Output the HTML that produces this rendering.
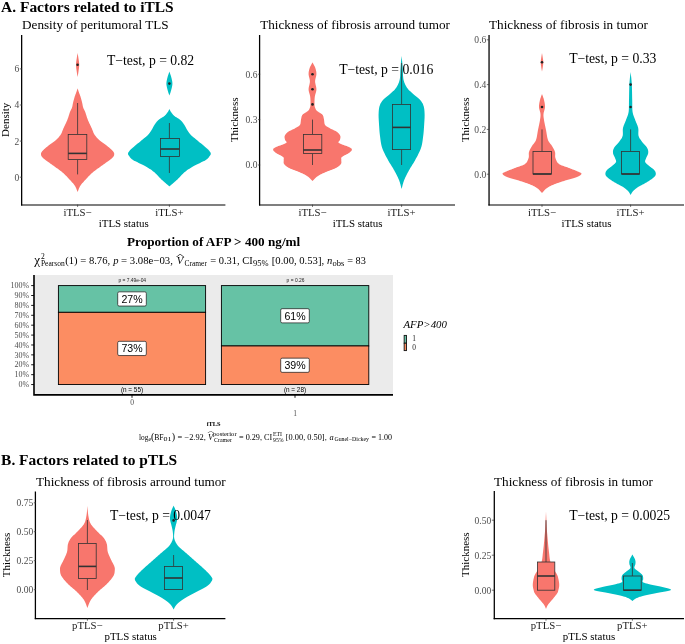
<!DOCTYPE html>
<html><head><meta charset="utf-8"><title>Factors related to TLS</title>
<style>html,body{margin:0;padding:0;background:#fff}svg{display:block;will-change:transform}text{white-space:pre}</style></head>
<body><svg width="685" height="644" viewBox="0 0 685 644">
<rect width="685" height="644" fill="#fff"/>
<text x="1.1" y="11.6" font-family='"Liberation Serif", serif' font-size="15.45" font-weight="bold" fill="#000">A. Factors related to iTLS</text>
<text x="1.1" y="465.2" font-family='"Liberation Serif", serif' font-size="15.45" font-weight="bold" fill="#000">B. Factors related to pTLS</text>
<line x1="21.65" y1="35" x2="21.65" y2="205.55" stroke="#000" stroke-width="1.28"/><line x1="21.009999999999998" y1="205.0" x2="225.4" y2="205.0" stroke="#000" stroke-width="1.12"/><line x1="19.8" y1="177.2" x2="22" y2="177.2" stroke="#333" stroke-width="0.7"/><text x="19.3" y="180.6" font-family='"Liberation Serif", serif' font-size="9.55" text-anchor="end" fill="#4d4d4d">0</text><line x1="19.8" y1="141.1" x2="22" y2="141.1" stroke="#333" stroke-width="0.7"/><text x="19.3" y="144.5" font-family='"Liberation Serif", serif' font-size="9.55" text-anchor="end" fill="#4d4d4d">2</text><line x1="19.8" y1="105" x2="22" y2="105" stroke="#333" stroke-width="0.7"/><text x="19.3" y="108.4" font-family='"Liberation Serif", serif' font-size="9.55" text-anchor="end" fill="#4d4d4d">4</text><line x1="19.8" y1="68.9" x2="22" y2="68.9" stroke="#333" stroke-width="0.7"/><text x="19.3" y="72.30000000000001" font-family='"Liberation Serif", serif' font-size="9.55" text-anchor="end" fill="#4d4d4d">6</text><line x1="77.6" y1="204.6" x2="77.6" y2="206.9" stroke="#333" stroke-width="0.7"/><text x="77.6" y="215.8" font-family='"Liberation Serif", serif' font-size="10.75" text-anchor="middle" fill="#1a1a1a">iTLS−</text><line x1="169.4" y1="204.6" x2="169.4" y2="206.9" stroke="#333" stroke-width="0.7"/><text x="169.4" y="215.8" font-family='"Liberation Serif", serif' font-size="10.75" text-anchor="middle" fill="#1a1a1a">iTLS+</text><text x="123.7" y="227" font-family='"Liberation Serif", serif' font-size="10.9" text-anchor="middle" fill="#000">iTLS status</text><text transform="translate(9.2,119.8) rotate(-90)" text-anchor="middle" font-family='"Liberation Serif", serif' font-size="11" fill="#000">Density</text><text x="22" y="29.2" font-family='"Liberation Serif", serif' font-size="13.2" fill="#000">Density of peritumoral TLS</text>
<path d="M77.60,53.00 L77.56,53.24 L77.51,53.52 L77.46,53.86 L77.39,54.23 L77.32,54.64 L77.25,55.07 L77.17,55.54 L77.10,56.01 L77.02,56.51 L76.94,57.00 L76.87,57.50 L76.80,58.00 L76.73,58.50 L76.65,59.02 L76.56,59.56 L76.47,60.12 L76.39,60.69 L76.30,61.26 L76.22,61.85 L76.15,62.44 L76.09,63.03 L76.04,63.62 L76.01,64.21 L76.00,64.80 L76.01,65.39 L76.04,66.00 L76.09,66.62 L76.15,67.25 L76.22,67.88 L76.30,68.51 L76.39,69.14 L76.47,69.75 L76.56,70.35 L76.65,70.92 L76.73,71.48 L76.80,72.00 L76.87,72.51 L76.94,73.02 L77.02,73.52 L77.10,74.01 L77.17,74.49 L77.25,74.95 L77.32,75.38 L77.39,75.79 L77.46,76.15 L77.51,76.48 L77.56,76.77 L77.60,77.00 L77.60,77.00 L77.64,76.77 L77.69,76.48 L77.74,76.15 L77.81,75.79 L77.88,75.38 L77.95,74.95 L78.03,74.49 L78.10,74.01 L78.18,73.52 L78.26,73.02 L78.33,72.51 L78.40,72.00 L78.47,71.48 L78.55,70.92 L78.64,70.35 L78.73,69.75 L78.81,69.14 L78.90,68.51 L78.98,67.88 L79.05,67.25 L79.11,66.62 L79.16,66.00 L79.19,65.39 L79.20,64.80 L79.19,64.21 L79.16,63.62 L79.11,63.03 L79.05,62.44 L78.98,61.85 L78.90,61.26 L78.81,60.69 L78.73,60.12 L78.64,59.56 L78.55,59.02 L78.47,58.50 L78.40,58.00 L78.33,57.50 L78.26,57.00 L78.18,56.51 L78.10,56.01 L78.03,55.54 L77.95,55.07 L77.88,54.64 L77.81,54.23 L77.74,53.86 L77.69,53.52 L77.64,53.24 L77.60,53.00Z" fill="#F8766D"/>
<path d="M77.60,88.30 L77.54,88.47 L77.48,88.69 L77.40,88.93 L77.31,89.21 L77.22,89.51 L77.11,89.84 L77.00,90.18 L76.89,90.53 L76.77,90.90 L76.65,91.27 L76.52,91.63 L76.40,92.00 L76.27,92.37 L76.13,92.75 L75.99,93.14 L75.84,93.53 L75.68,93.94 L75.52,94.36 L75.37,94.78 L75.21,95.21 L75.05,95.65 L74.90,96.09 L74.74,96.54 L74.60,97.00 L74.46,97.47 L74.31,97.96 L74.17,98.46 L74.03,98.98 L73.89,99.50 L73.75,100.02 L73.61,100.55 L73.48,101.07 L73.35,101.58 L73.23,102.07 L73.11,102.55 L73.00,103.00 L72.90,103.43 L72.81,103.85 L72.73,104.25 L72.66,104.64 L72.59,105.03 L72.52,105.40 L72.46,105.77 L72.39,106.13 L72.31,106.50 L72.22,106.86 L72.12,107.23 L72.00,107.60 L71.87,107.96 L71.73,108.30 L71.59,108.63 L71.43,108.95 L71.27,109.27 L71.11,109.59 L70.93,109.92 L70.76,110.27 L70.57,110.65 L70.39,111.06 L70.19,111.51 L70.00,112.00 L69.80,112.54 L69.60,113.12 L69.40,113.75 L69.19,114.40 L68.98,115.08 L68.76,115.78 L68.53,116.48 L68.30,117.20 L68.06,117.92 L67.82,118.62 L67.56,119.32 L67.30,120.00 L67.02,120.67 L66.73,121.35 L66.42,122.04 L66.11,122.73 L65.78,123.41 L65.46,124.10 L65.13,124.78 L64.80,125.45 L64.49,126.11 L64.18,126.76 L63.88,127.39 L63.60,128.00 L63.34,128.59 L63.10,129.17 L62.88,129.73 L62.67,130.28 L62.47,130.82 L62.27,131.35 L62.06,131.87 L61.85,132.39 L61.62,132.89 L61.37,133.40 L61.10,133.90 L60.80,134.40 L60.48,134.89 L60.15,135.38 L59.82,135.85 L59.47,136.31 L59.10,136.77 L58.72,137.23 L58.33,137.68 L57.91,138.13 L57.47,138.59 L57.01,139.05 L56.52,139.52 L56.00,140.00 L55.44,140.49 L54.82,140.99 L54.17,141.50 L53.48,142.01 L52.77,142.52 L52.05,143.04 L51.33,143.55 L50.61,144.06 L49.91,144.56 L49.23,145.05 L48.59,145.53 L48.00,146.00 L47.44,146.46 L46.88,146.91 L46.33,147.36 L45.80,147.80 L45.28,148.24 L44.79,148.66 L44.31,149.08 L43.87,149.49 L43.45,149.89 L43.06,150.27 L42.71,150.64 L42.40,151.00 L42.13,151.34 L41.88,151.66 L41.67,151.96 L41.50,152.24 L41.35,152.52 L41.22,152.79 L41.13,153.05 L41.06,153.31 L41.01,153.57 L40.99,153.84 L40.98,154.11 L41.00,154.40 L41.03,154.69 L41.07,154.96 L41.12,155.23 L41.19,155.50 L41.29,155.76 L41.41,156.04 L41.57,156.32 L41.76,156.61 L42.00,156.93 L42.28,157.26 L42.61,157.62 L43.00,158.00 L43.45,158.41 L43.95,158.84 L44.51,159.28 L45.11,159.75 L45.76,160.23 L46.44,160.72 L47.15,161.24 L47.89,161.76 L48.65,162.30 L49.42,162.86 L50.21,163.42 L51.00,164.00 L51.82,164.60 L52.69,165.22 L53.61,165.86 L54.56,166.52 L55.52,167.19 L56.50,167.88 L57.48,168.57 L58.44,169.26 L59.39,169.95 L60.31,170.64 L61.18,171.33 L62.00,172.00 L62.78,172.67 L63.54,173.36 L64.28,174.05 L65.00,174.74 L65.70,175.43 L66.38,176.12 L67.03,176.81 L67.67,177.48 L68.28,178.14 L68.88,178.78 L69.45,179.40 L70.00,180.00 L70.53,180.57 L71.03,181.12 L71.52,181.64 L71.98,182.15 L72.42,182.64 L72.84,183.12 L73.24,183.60 L73.62,184.07 L73.99,184.55 L74.34,185.02 L74.68,185.51 L75.00,186.00 L75.31,186.52 L75.60,187.07 L75.88,187.64 L76.14,188.22 L76.39,188.80 L76.61,189.38 L76.82,189.93 L77.01,190.44 L77.19,190.92 L77.34,191.35 L77.48,191.71 L77.60,192.00 L77.60,192.00 L77.72,191.71 L77.86,191.35 L78.01,190.92 L78.19,190.44 L78.38,189.93 L78.59,189.38 L78.81,188.80 L79.06,188.22 L79.32,187.64 L79.60,187.07 L79.89,186.52 L80.20,186.00 L80.52,185.51 L80.86,185.02 L81.21,184.55 L81.58,184.07 L81.96,183.60 L82.36,183.12 L82.78,182.64 L83.22,182.15 L83.68,181.64 L84.17,181.12 L84.67,180.57 L85.20,180.00 L85.75,179.40 L86.32,178.78 L86.92,178.14 L87.53,177.48 L88.17,176.81 L88.82,176.12 L89.50,175.43 L90.20,174.74 L90.92,174.05 L91.66,173.36 L92.42,172.67 L93.20,172.00 L94.02,171.33 L94.89,170.64 L95.81,169.95 L96.76,169.26 L97.72,168.57 L98.70,167.88 L99.68,167.19 L100.64,166.52 L101.59,165.86 L102.51,165.22 L103.38,164.60 L104.20,164.00 L104.99,163.42 L105.78,162.86 L106.55,162.30 L107.31,161.76 L108.05,161.24 L108.76,160.72 L109.44,160.23 L110.09,159.75 L110.69,159.28 L111.25,158.84 L111.75,158.41 L112.20,158.00 L112.59,157.62 L112.92,157.26 L113.20,156.93 L113.44,156.61 L113.63,156.32 L113.79,156.04 L113.91,155.76 L114.01,155.50 L114.08,155.23 L114.13,154.96 L114.17,154.69 L114.20,154.40 L114.22,154.11 L114.21,153.84 L114.19,153.57 L114.14,153.31 L114.07,153.05 L113.97,152.79 L113.85,152.52 L113.70,152.24 L113.53,151.96 L113.32,151.66 L113.07,151.34 L112.80,151.00 L112.49,150.64 L112.14,150.27 L111.75,149.89 L111.33,149.49 L110.89,149.08 L110.41,148.66 L109.92,148.24 L109.40,147.80 L108.87,147.36 L108.32,146.91 L107.76,146.46 L107.20,146.00 L106.61,145.53 L105.97,145.05 L105.29,144.56 L104.59,144.06 L103.87,143.55 L103.15,143.04 L102.43,142.52 L101.72,142.01 L101.03,141.50 L100.38,140.99 L99.76,140.49 L99.20,140.00 L98.68,139.52 L98.19,139.05 L97.73,138.59 L97.29,138.13 L96.87,137.68 L96.47,137.23 L96.10,136.77 L95.73,136.31 L95.38,135.85 L95.05,135.38 L94.72,134.89 L94.40,134.40 L94.10,133.90 L93.83,133.40 L93.58,132.89 L93.35,132.39 L93.14,131.87 L92.93,131.35 L92.73,130.82 L92.53,130.28 L92.32,129.73 L92.10,129.17 L91.86,128.59 L91.60,128.00 L91.32,127.39 L91.02,126.76 L90.71,126.11 L90.40,125.45 L90.07,124.78 L89.74,124.10 L89.42,123.41 L89.09,122.73 L88.78,122.04 L88.47,121.35 L88.18,120.67 L87.90,120.00 L87.64,119.32 L87.38,118.62 L87.14,117.92 L86.90,117.20 L86.67,116.48 L86.44,115.78 L86.22,115.08 L86.01,114.40 L85.80,113.75 L85.60,113.12 L85.40,112.54 L85.20,112.00 L85.01,111.51 L84.81,111.06 L84.63,110.65 L84.44,110.27 L84.27,109.92 L84.09,109.59 L83.93,109.27 L83.77,108.95 L83.61,108.63 L83.47,108.30 L83.33,107.96 L83.20,107.60 L83.08,107.23 L82.98,106.86 L82.89,106.50 L82.81,106.13 L82.74,105.77 L82.67,105.40 L82.61,105.03 L82.54,104.64 L82.47,104.25 L82.39,103.85 L82.30,103.43 L82.20,103.00 L82.09,102.55 L81.97,102.07 L81.85,101.58 L81.72,101.07 L81.59,100.55 L81.45,100.02 L81.31,99.50 L81.17,98.98 L81.03,98.46 L80.89,97.96 L80.74,97.47 L80.60,97.00 L80.46,96.54 L80.30,96.09 L80.15,95.65 L79.99,95.21 L79.83,94.78 L79.67,94.36 L79.52,93.94 L79.36,93.53 L79.21,93.14 L79.07,92.75 L78.93,92.37 L78.80,92.00 L78.68,91.63 L78.55,91.27 L78.43,90.90 L78.31,90.53 L78.20,90.18 L78.09,89.84 L77.98,89.51 L77.89,89.21 L77.80,88.93 L77.72,88.69 L77.66,88.47 L77.60,88.30Z" fill="#F8766D"/>
<line x1="77.6" y1="103" x2="77.6" y2="134.4" stroke="#333333" stroke-width="0.8"/><line x1="77.6" y1="159.6" x2="77.6" y2="174.4" stroke="#333333" stroke-width="0.8"/><rect x="68.2" y="134.4" width="18.599999999999994" height="25.19999999999999" fill="#F8766D" stroke="#333333" stroke-width="0.8"/><line x1="68.2" y1="153.4" x2="86.8" y2="153.4" stroke="#333333" stroke-width="1.6"/>
<circle cx="77.6" cy="64.8" r="1.3" fill="#222"/>
<path d="M169.40,71.60 L169.31,71.86 L169.20,72.17 L169.06,72.54 L168.91,72.96 L168.75,73.41 L168.58,73.89 L168.40,74.39 L168.22,74.91 L168.05,75.44 L167.89,75.97 L167.73,76.49 L167.60,77.00 L167.47,77.51 L167.34,78.03 L167.20,78.57 L167.07,79.12 L166.94,79.68 L166.81,80.24 L166.70,80.80 L166.60,81.37 L166.52,81.94 L166.45,82.50 L166.41,83.05 L166.40,83.60 L166.41,84.14 L166.45,84.69 L166.52,85.23 L166.60,85.78 L166.70,86.32 L166.81,86.86 L166.94,87.40 L167.07,87.93 L167.20,88.46 L167.34,88.98 L167.47,89.50 L167.60,90.00 L167.73,90.51 L167.89,91.04 L168.05,91.59 L168.22,92.13 L168.40,92.67 L168.58,93.20 L168.75,93.70 L168.91,94.18 L169.06,94.61 L169.20,95.00 L169.31,95.33 L169.40,95.60 L169.40,95.60 L169.49,95.33 L169.60,95.00 L169.74,94.61 L169.89,94.18 L170.05,93.70 L170.22,93.20 L170.40,92.67 L170.58,92.13 L170.75,91.59 L170.91,91.04 L171.07,90.51 L171.20,90.00 L171.33,89.50 L171.46,88.98 L171.60,88.46 L171.73,87.93 L171.86,87.40 L171.99,86.86 L172.10,86.32 L172.20,85.78 L172.28,85.23 L172.35,84.69 L172.39,84.14 L172.40,83.60 L172.39,83.05 L172.35,82.50 L172.28,81.94 L172.20,81.37 L172.10,80.80 L171.99,80.24 L171.86,79.68 L171.73,79.12 L171.60,78.57 L171.46,78.03 L171.33,77.51 L171.20,77.00 L171.07,76.49 L170.91,75.97 L170.75,75.44 L170.58,74.91 L170.40,74.39 L170.22,73.89 L170.05,73.41 L169.89,72.96 L169.74,72.54 L169.60,72.17 L169.49,71.86 L169.40,71.60Z" fill="#00BFC4"/>
<path d="M169.40,109.00 L169.33,109.14 L169.25,109.31 L169.15,109.52 L169.05,109.74 L168.94,109.99 L168.81,110.25 L168.68,110.53 L168.53,110.81 L168.36,111.11 L168.19,111.41 L168.00,111.71 L167.80,112.00 L167.59,112.30 L167.37,112.61 L167.14,112.93 L166.90,113.26 L166.64,113.60 L166.38,113.94 L166.09,114.28 L165.79,114.63 L165.47,114.98 L165.14,115.32 L164.78,115.66 L164.40,116.00 L163.98,116.33 L163.53,116.66 L163.04,116.98 L162.52,117.30 L161.98,117.62 L161.44,117.94 L160.89,118.26 L160.35,118.59 L159.82,118.93 L159.31,119.28 L158.84,119.63 L158.40,120.00 L157.99,120.38 L157.60,120.78 L157.23,121.18 L156.87,121.59 L156.53,122.01 L156.20,122.44 L155.88,122.87 L155.57,123.30 L155.27,123.73 L154.97,124.16 L154.68,124.58 L154.40,125.00 L154.13,125.42 L153.87,125.83 L153.64,126.25 L153.41,126.67 L153.19,127.08 L152.98,127.50 L152.77,127.92 L152.56,128.33 L152.34,128.75 L152.10,129.17 L151.86,129.58 L151.60,130.00 L151.33,130.42 L151.06,130.83 L150.79,131.25 L150.51,131.67 L150.23,132.08 L149.94,132.50 L149.64,132.92 L149.33,133.33 L149.00,133.75 L148.65,134.17 L148.29,134.58 L147.90,135.00 L147.50,135.41 L147.09,135.80 L146.67,136.18 L146.23,136.56 L145.78,136.93 L145.32,137.31 L144.83,137.70 L144.32,138.11 L143.79,138.54 L143.22,138.99 L142.63,139.48 L142.00,140.00 L141.31,140.58 L140.54,141.22 L139.71,141.91 L138.83,142.63 L137.93,143.37 L137.02,144.12 L136.12,144.87 L135.25,145.59 L134.42,146.28 L133.66,146.92 L132.98,147.50 L132.40,148.00 L131.91,148.43 L131.50,148.79 L131.15,149.11 L130.85,149.39 L130.60,149.62 L130.39,149.84 L130.20,150.03 L130.04,150.21 L129.88,150.40 L129.73,150.58 L129.57,150.78 L129.40,151.00 L129.22,151.23 L129.05,151.46 L128.88,151.68 L128.72,151.90 L128.58,152.12 L128.44,152.34 L128.33,152.55 L128.22,152.76 L128.14,152.97 L128.07,153.18 L128.02,153.39 L128.00,153.60 L128.00,153.80 L128.01,153.99 L128.03,154.18 L128.08,154.36 L128.14,154.53 L128.22,154.71 L128.32,154.90 L128.43,155.09 L128.57,155.29 L128.73,155.51 L128.90,155.74 L129.10,156.00 L129.30,156.27 L129.49,156.55 L129.69,156.84 L129.89,157.14 L130.12,157.45 L130.37,157.78 L130.66,158.11 L131.00,158.46 L131.39,158.82 L131.85,159.20 L132.38,159.59 L133.00,160.00 L133.73,160.43 L134.57,160.88 L135.50,161.36 L136.51,161.85 L137.58,162.36 L138.68,162.88 L139.80,163.40 L140.92,163.93 L142.02,164.45 L143.08,164.98 L144.08,165.49 L145.00,166.00 L145.86,166.49 L146.69,166.98 L147.48,167.45 L148.26,167.93 L149.01,168.40 L149.75,168.88 L150.47,169.36 L151.19,169.85 L151.89,170.36 L152.59,170.88 L153.29,171.43 L154.00,172.00 L154.70,172.60 L155.40,173.24 L156.08,173.90 L156.76,174.58 L157.43,175.27 L158.10,175.97 L158.76,176.68 L159.41,177.38 L160.07,178.07 L160.71,178.74 L161.36,179.38 L162.00,180.00 L162.66,180.61 L163.35,181.23 L164.07,181.86 L164.79,182.49 L165.50,183.10 L166.20,183.70 L166.87,184.27 L167.50,184.80 L168.08,185.29 L168.60,185.72 L169.04,186.10 L169.40,186.40 L169.40,186.40 L169.76,186.10 L170.20,185.72 L170.72,185.29 L171.30,184.80 L171.93,184.27 L172.60,183.70 L173.30,183.10 L174.01,182.49 L174.73,181.86 L175.45,181.23 L176.14,180.61 L176.80,180.00 L177.44,179.38 L178.09,178.74 L178.73,178.07 L179.39,177.38 L180.04,176.68 L180.70,175.97 L181.37,175.27 L182.04,174.58 L182.72,173.90 L183.40,173.24 L184.10,172.60 L184.80,172.00 L185.51,171.43 L186.21,170.88 L186.91,170.36 L187.61,169.85 L188.33,169.36 L189.05,168.88 L189.79,168.40 L190.54,167.93 L191.32,167.45 L192.11,166.98 L192.94,166.49 L193.80,166.00 L194.72,165.49 L195.72,164.98 L196.78,164.45 L197.88,163.93 L199.00,163.40 L200.12,162.88 L201.22,162.36 L202.29,161.85 L203.30,161.36 L204.23,160.88 L205.07,160.43 L205.80,160.00 L206.42,159.59 L206.95,159.20 L207.41,158.82 L207.80,158.46 L208.14,158.11 L208.43,157.78 L208.68,157.45 L208.91,157.14 L209.11,156.84 L209.31,156.55 L209.50,156.27 L209.70,156.00 L209.90,155.74 L210.07,155.51 L210.23,155.29 L210.37,155.09 L210.48,154.90 L210.58,154.71 L210.66,154.53 L210.72,154.36 L210.77,154.18 L210.79,153.99 L210.80,153.80 L210.80,153.60 L210.78,153.39 L210.73,153.18 L210.66,152.97 L210.58,152.76 L210.47,152.55 L210.36,152.34 L210.22,152.12 L210.08,151.90 L209.92,151.68 L209.75,151.46 L209.58,151.23 L209.40,151.00 L209.23,150.78 L209.07,150.58 L208.92,150.40 L208.76,150.21 L208.60,150.03 L208.41,149.84 L208.20,149.62 L207.95,149.39 L207.65,149.11 L207.30,148.79 L206.89,148.43 L206.40,148.00 L205.82,147.50 L205.14,146.92 L204.38,146.28 L203.55,145.59 L202.68,144.87 L201.78,144.12 L200.87,143.37 L199.97,142.63 L199.09,141.91 L198.26,141.22 L197.49,140.58 L196.80,140.00 L196.17,139.48 L195.58,138.99 L195.01,138.54 L194.48,138.11 L193.97,137.70 L193.48,137.31 L193.02,136.93 L192.57,136.56 L192.13,136.18 L191.71,135.80 L191.30,135.41 L190.90,135.00 L190.51,134.58 L190.15,134.17 L189.80,133.75 L189.47,133.33 L189.16,132.92 L188.86,132.50 L188.57,132.08 L188.29,131.67 L188.01,131.25 L187.74,130.83 L187.47,130.42 L187.20,130.00 L186.94,129.58 L186.70,129.17 L186.46,128.75 L186.24,128.33 L186.03,127.92 L185.82,127.50 L185.61,127.08 L185.39,126.67 L185.16,126.25 L184.93,125.83 L184.67,125.42 L184.40,125.00 L184.12,124.58 L183.83,124.16 L183.53,123.73 L183.23,123.30 L182.92,122.87 L182.60,122.44 L182.27,122.01 L181.93,121.59 L181.57,121.18 L181.20,120.78 L180.81,120.38 L180.40,120.00 L179.96,119.63 L179.49,119.28 L178.98,118.93 L178.45,118.59 L177.91,118.26 L177.36,117.94 L176.82,117.62 L176.28,117.30 L175.76,116.98 L175.27,116.66 L174.82,116.33 L174.40,116.00 L174.02,115.66 L173.66,115.32 L173.33,114.98 L173.01,114.63 L172.71,114.28 L172.43,113.94 L172.16,113.60 L171.90,113.26 L171.66,112.93 L171.43,112.61 L171.21,112.30 L171.00,112.00 L170.80,111.71 L170.61,111.41 L170.44,111.11 L170.27,110.81 L170.12,110.53 L169.99,110.25 L169.86,109.99 L169.75,109.74 L169.65,109.52 L169.55,109.31 L169.47,109.14 L169.40,109.00Z" fill="#00BFC4"/>
<line x1="169.4" y1="123" x2="169.4" y2="138.4" stroke="#333333" stroke-width="0.8"/><line x1="169.4" y1="156.6" x2="169.4" y2="173" stroke="#333333" stroke-width="0.8"/><rect x="160.4" y="138.4" width="19.0" height="18.19999999999999" fill="#00BFC4" stroke="#333333" stroke-width="0.8"/><line x1="160.4" y1="149" x2="179.4" y2="149" stroke="#333333" stroke-width="1.6"/>
<circle cx="169.4" cy="83.6" r="1.3" fill="#222"/>
<text x="107" y="65" font-family='"Liberation Serif", serif' font-size="13.68" fill="#000">T−test, p = 0.82</text>
<line x1="259.6" y1="35" x2="259.6" y2="205.55" stroke="#000" stroke-width="1.28"/><line x1="258.96000000000004" y1="205.0" x2="455" y2="205.0" stroke="#000" stroke-width="1.12"/><line x1="258.0" y1="165" x2="260.2" y2="165" stroke="#333" stroke-width="0.7"/><text x="257.5" y="168.4" font-family='"Liberation Serif", serif' font-size="9.55" text-anchor="end" fill="#4d4d4d">0.0</text><line x1="258.0" y1="119.6" x2="260.2" y2="119.6" stroke="#333" stroke-width="0.7"/><text x="257.5" y="123.0" font-family='"Liberation Serif", serif' font-size="9.55" text-anchor="end" fill="#4d4d4d">0.3</text><line x1="258.0" y1="74.2" x2="260.2" y2="74.2" stroke="#333" stroke-width="0.7"/><text x="257.5" y="77.60000000000001" font-family='"Liberation Serif", serif' font-size="9.55" text-anchor="end" fill="#4d4d4d">0.6</text><line x1="312.5" y1="204.6" x2="312.5" y2="206.9" stroke="#333" stroke-width="0.7"/><text x="312.5" y="215.8" font-family='"Liberation Serif", serif' font-size="10.75" text-anchor="middle" fill="#1a1a1a">iTLS−</text><line x1="401.6" y1="204.6" x2="401.6" y2="206.9" stroke="#333" stroke-width="0.7"/><text x="401.6" y="215.8" font-family='"Liberation Serif", serif' font-size="10.75" text-anchor="middle" fill="#1a1a1a">iTLS+</text><text x="357.6" y="227" font-family='"Liberation Serif", serif' font-size="10.9" text-anchor="middle" fill="#000">iTLS status</text><text transform="translate(238.3,119.8) rotate(-90)" text-anchor="middle" font-family='"Liberation Serif", serif' font-size="11" fill="#000">Thickness</text><text x="260.2" y="29.2" font-family='"Liberation Serif", serif' font-size="13.2" fill="#000">Thickness of fibrosis arround tumor</text>
<path d="M312.50,62.40 L312.43,62.52 L312.35,62.67 L312.25,62.85 L312.14,63.04 L312.03,63.25 L311.90,63.48 L311.77,63.72 L311.63,63.97 L311.50,64.23 L311.36,64.48 L311.23,64.74 L311.10,65.00 L310.97,65.25 L310.84,65.51 L310.70,65.76 L310.56,66.02 L310.41,66.28 L310.27,66.56 L310.13,66.84 L309.99,67.14 L309.86,67.45 L309.73,67.78 L309.61,68.13 L309.50,68.50 L309.39,68.89 L309.28,69.31 L309.17,69.74 L309.07,70.18 L308.96,70.64 L308.87,71.12 L308.78,71.61 L308.71,72.11 L308.65,72.62 L308.61,73.14 L308.60,73.67 L308.60,74.20 L308.64,74.74 L308.72,75.30 L308.83,75.88 L308.97,76.46 L309.12,77.05 L309.27,77.66 L309.43,78.27 L309.58,78.89 L309.71,79.51 L309.81,80.14 L309.88,80.77 L309.90,81.40 L309.87,82.04 L309.80,82.69 L309.69,83.36 L309.55,84.03 L309.40,84.71 L309.23,85.39 L309.07,86.07 L308.91,86.75 L308.78,87.42 L308.68,88.09 L308.62,88.75 L308.60,89.40 L308.64,90.04 L308.71,90.67 L308.83,91.29 L308.97,91.90 L309.13,92.52 L309.30,93.12 L309.48,93.73 L309.66,94.34 L309.82,94.95 L309.98,95.56 L310.10,96.18 L310.20,96.80 L310.27,97.44 L310.34,98.10 L310.39,98.78 L310.43,99.47 L310.47,100.16 L310.49,100.84 L310.51,101.51 L310.52,102.16 L310.53,102.78 L310.52,103.36 L310.51,103.91 L310.50,104.40 L310.48,104.84 L310.46,105.24 L310.42,105.60 L310.39,105.92 L310.34,106.21 L310.29,106.49 L310.23,106.75 L310.16,106.99 L310.08,107.24 L310.00,107.48 L309.90,107.73 L309.80,108.00 L309.69,108.27 L309.59,108.53 L309.49,108.78 L309.38,109.02 L309.27,109.26 L309.14,109.49 L308.99,109.73 L308.83,109.97 L308.64,110.21 L308.43,110.47 L308.18,110.73 L307.90,111.00 L307.57,111.28 L307.17,111.57 L306.73,111.86 L306.24,112.16 L305.74,112.46 L305.23,112.77 L304.71,113.08 L304.21,113.40 L303.74,113.72 L303.30,114.04 L302.92,114.37 L302.60,114.70 L302.34,115.03 L302.13,115.36 L301.95,115.69 L301.81,116.03 L301.69,116.36 L301.59,116.71 L301.51,117.06 L301.44,117.42 L301.36,117.79 L301.29,118.18 L301.20,118.58 L301.10,119.00 L301.00,119.45 L300.93,119.93 L300.87,120.44 L300.82,120.97 L300.77,121.51 L300.72,122.06 L300.65,122.60 L300.57,123.13 L300.46,123.64 L300.32,124.13 L300.13,124.59 L299.90,125.00 L299.62,125.37 L299.31,125.71 L298.96,126.03 L298.59,126.32 L298.19,126.59 L297.76,126.85 L297.32,127.10 L296.86,127.35 L296.38,127.60 L295.89,127.85 L295.40,128.12 L294.90,128.40 L294.37,128.69 L293.81,128.98 L293.20,129.28 L292.57,129.57 L291.93,129.87 L291.29,130.16 L290.65,130.46 L290.03,130.76 L289.43,131.07 L288.87,131.37 L288.36,131.69 L287.90,132.00 L287.49,132.32 L287.11,132.64 L286.75,132.97 L286.42,133.30 L286.11,133.64 L285.84,133.97 L285.59,134.31 L285.36,134.65 L285.16,134.99 L284.98,135.33 L284.83,135.67 L284.70,136.00 L284.61,136.34 L284.55,136.68 L284.53,137.02 L284.54,137.37 L284.58,137.72 L284.64,138.06 L284.71,138.40 L284.79,138.74 L284.87,139.07 L284.96,139.39 L285.03,139.70 L285.10,140.00 L285.20,140.28 L285.36,140.55 L285.57,140.80 L285.80,141.04 L286.03,141.27 L286.25,141.50 L286.43,141.73 L286.56,141.96 L286.61,142.20 L286.56,142.45 L286.40,142.72 L286.10,143.00 L285.63,143.30 L284.99,143.62 L284.21,143.96 L283.32,144.31 L282.36,144.67 L281.35,145.03 L280.33,145.38 L279.32,145.73 L278.37,146.08 L277.49,146.40 L276.72,146.71 L276.10,147.00 L275.59,147.26 L275.13,147.51 L274.72,147.73 L274.36,147.94 L274.05,148.14 L273.79,148.34 L273.57,148.53 L273.40,148.73 L273.26,148.93 L273.17,149.14 L273.12,149.36 L273.10,149.60 L273.13,149.85 L273.21,150.11 L273.33,150.38 L273.51,150.65 L273.72,150.93 L273.98,151.21 L274.26,151.50 L274.58,151.79 L274.93,152.09 L275.30,152.39 L275.69,152.69 L276.10,153.00 L276.56,153.32 L277.11,153.64 L277.72,153.98 L278.37,154.33 L279.06,154.67 L279.75,155.03 L280.43,155.37 L281.09,155.72 L281.71,156.06 L282.26,156.38 L282.73,156.70 L283.10,157.00 L283.37,157.28 L283.57,157.55 L283.70,157.80 L283.78,158.04 L283.81,158.27 L283.81,158.50 L283.79,158.73 L283.75,158.96 L283.71,159.20 L283.69,159.45 L283.68,159.72 L283.70,160.00 L283.73,160.30 L283.73,160.61 L283.71,160.93 L283.68,161.26 L283.65,161.60 L283.62,161.94 L283.62,162.28 L283.63,162.63 L283.68,162.98 L283.77,163.32 L283.91,163.66 L284.10,164.00 L284.34,164.33 L284.61,164.67 L284.91,165.00 L285.24,165.33 L285.60,165.67 L286.00,166.00 L286.43,166.33 L286.89,166.67 L287.39,167.00 L287.92,167.33 L288.49,167.67 L289.10,168.00 L289.76,168.33 L290.50,168.67 L291.30,169.00 L292.14,169.33 L293.01,169.67 L293.91,170.00 L294.82,170.33 L295.73,170.67 L296.62,171.00 L297.49,171.33 L298.32,171.67 L299.10,172.00 L299.84,172.33 L300.58,172.66 L301.30,172.98 L302.01,173.30 L302.71,173.62 L303.39,173.94 L304.05,174.26 L304.70,174.59 L305.33,174.93 L305.94,175.28 L306.53,175.63 L307.10,176.00 L307.66,176.40 L308.21,176.83 L308.76,177.30 L309.29,177.78 L309.81,178.27 L310.30,178.75 L310.76,179.22 L311.20,179.67 L311.59,180.08 L311.94,180.44 L312.25,180.76 L312.50,181.00 L312.50,181.00 L312.75,180.76 L313.06,180.44 L313.41,180.08 L313.80,179.67 L314.24,179.22 L314.70,178.75 L315.19,178.27 L315.71,177.78 L316.24,177.30 L316.79,176.83 L317.34,176.40 L317.90,176.00 L318.47,175.63 L319.06,175.28 L319.67,174.93 L320.30,174.59 L320.95,174.26 L321.61,173.94 L322.29,173.62 L322.99,173.30 L323.70,172.98 L324.42,172.66 L325.16,172.33 L325.90,172.00 L326.68,171.67 L327.51,171.33 L328.38,171.00 L329.27,170.67 L330.18,170.33 L331.09,170.00 L331.99,169.67 L332.86,169.33 L333.70,169.00 L334.50,168.67 L335.24,168.33 L335.90,168.00 L336.51,167.67 L337.08,167.33 L337.61,167.00 L338.11,166.67 L338.57,166.33 L339.00,166.00 L339.40,165.67 L339.76,165.33 L340.09,165.00 L340.39,164.67 L340.66,164.33 L340.90,164.00 L341.09,163.66 L341.23,163.32 L341.32,162.98 L341.37,162.63 L341.38,162.28 L341.38,161.94 L341.35,161.60 L341.32,161.26 L341.29,160.93 L341.27,160.61 L341.27,160.30 L341.30,160.00 L341.32,159.72 L341.31,159.45 L341.29,159.20 L341.25,158.96 L341.21,158.73 L341.19,158.50 L341.19,158.27 L341.22,158.04 L341.30,157.80 L341.43,157.55 L341.63,157.28 L341.90,157.00 L342.27,156.70 L342.74,156.38 L343.29,156.06 L343.91,155.72 L344.57,155.37 L345.25,155.03 L345.94,154.67 L346.63,154.33 L347.28,153.98 L347.89,153.64 L348.44,153.32 L348.90,153.00 L349.31,152.69 L349.70,152.39 L350.07,152.09 L350.42,151.79 L350.74,151.50 L351.02,151.21 L351.28,150.93 L351.49,150.65 L351.67,150.38 L351.79,150.11 L351.87,149.85 L351.90,149.60 L351.88,149.36 L351.83,149.14 L351.74,148.93 L351.60,148.73 L351.43,148.53 L351.21,148.34 L350.95,148.14 L350.64,147.94 L350.28,147.73 L349.87,147.51 L349.41,147.26 L348.90,147.00 L348.28,146.71 L347.51,146.40 L346.63,146.08 L345.68,145.73 L344.67,145.38 L343.65,145.03 L342.64,144.67 L341.68,144.31 L340.79,143.96 L340.01,143.62 L339.37,143.30 L338.90,143.00 L338.60,142.72 L338.44,142.45 L338.39,142.20 L338.44,141.96 L338.57,141.73 L338.75,141.50 L338.97,141.27 L339.20,141.04 L339.43,140.80 L339.64,140.55 L339.80,140.28 L339.90,140.00 L339.97,139.70 L340.04,139.39 L340.13,139.07 L340.21,138.74 L340.29,138.40 L340.36,138.06 L340.42,137.72 L340.46,137.37 L340.47,137.02 L340.45,136.68 L340.39,136.34 L340.30,136.00 L340.17,135.67 L340.02,135.33 L339.84,134.99 L339.64,134.65 L339.41,134.31 L339.16,133.97 L338.89,133.64 L338.58,133.30 L338.25,132.97 L337.89,132.64 L337.51,132.32 L337.10,132.00 L336.64,131.69 L336.13,131.37 L335.57,131.07 L334.97,130.76 L334.35,130.46 L333.71,130.16 L333.07,129.87 L332.43,129.57 L331.80,129.28 L331.19,128.98 L330.63,128.69 L330.10,128.40 L329.60,128.12 L329.11,127.85 L328.62,127.60 L328.14,127.35 L327.68,127.10 L327.24,126.85 L326.81,126.59 L326.41,126.32 L326.04,126.03 L325.69,125.71 L325.38,125.37 L325.10,125.00 L324.87,124.59 L324.68,124.13 L324.54,123.64 L324.43,123.13 L324.35,122.60 L324.28,122.06 L324.23,121.51 L324.18,120.97 L324.13,120.44 L324.07,119.93 L324.00,119.45 L323.90,119.00 L323.80,118.58 L323.71,118.18 L323.64,117.79 L323.56,117.42 L323.49,117.06 L323.41,116.71 L323.31,116.36 L323.19,116.03 L323.05,115.69 L322.87,115.36 L322.66,115.03 L322.40,114.70 L322.08,114.37 L321.70,114.04 L321.26,113.72 L320.79,113.40 L320.29,113.08 L319.77,112.77 L319.26,112.46 L318.76,112.16 L318.27,111.86 L317.83,111.57 L317.43,111.28 L317.10,111.00 L316.82,110.73 L316.57,110.47 L316.36,110.21 L316.17,109.97 L316.01,109.73 L315.86,109.49 L315.73,109.26 L315.62,109.02 L315.51,108.78 L315.41,108.53 L315.31,108.27 L315.20,108.00 L315.10,107.73 L315.00,107.48 L314.92,107.24 L314.84,106.99 L314.77,106.75 L314.71,106.49 L314.66,106.21 L314.61,105.92 L314.58,105.60 L314.54,105.24 L314.52,104.84 L314.50,104.40 L314.49,103.91 L314.48,103.36 L314.47,102.78 L314.48,102.16 L314.49,101.51 L314.51,100.84 L314.53,100.16 L314.57,99.47 L314.61,98.78 L314.66,98.10 L314.73,97.44 L314.80,96.80 L314.90,96.18 L315.02,95.56 L315.18,94.95 L315.34,94.34 L315.52,93.73 L315.70,93.12 L315.87,92.52 L316.03,91.90 L316.17,91.29 L316.29,90.67 L316.36,90.04 L316.40,89.40 L316.38,88.75 L316.32,88.09 L316.22,87.42 L316.09,86.75 L315.93,86.07 L315.77,85.39 L315.60,84.71 L315.45,84.03 L315.31,83.36 L315.20,82.69 L315.13,82.04 L315.10,81.40 L315.12,80.77 L315.19,80.14 L315.29,79.51 L315.42,78.89 L315.57,78.27 L315.73,77.66 L315.88,77.05 L316.03,76.46 L316.17,75.88 L316.28,75.30 L316.36,74.74 L316.40,74.20 L316.40,73.67 L316.39,73.14 L316.35,72.62 L316.29,72.11 L316.22,71.61 L316.13,71.12 L316.04,70.64 L315.93,70.18 L315.83,69.74 L315.72,69.31 L315.61,68.89 L315.50,68.50 L315.39,68.13 L315.27,67.78 L315.14,67.45 L315.01,67.14 L314.87,66.84 L314.73,66.56 L314.59,66.28 L314.44,66.02 L314.30,65.76 L314.16,65.51 L314.03,65.25 L313.90,65.00 L313.77,64.74 L313.64,64.48 L313.50,64.23 L313.37,63.97 L313.23,63.72 L313.10,63.48 L312.97,63.25 L312.86,63.04 L312.75,62.85 L312.65,62.67 L312.57,62.52 L312.50,62.40Z" fill="#F8766D"/>
<line x1="312.5" y1="119.6" x2="312.5" y2="134.4" stroke="#333333" stroke-width="0.8"/><line x1="312.5" y1="153.6" x2="312.5" y2="165" stroke="#333333" stroke-width="0.8"/><rect x="303.4" y="134.4" width="18.400000000000034" height="19.19999999999999" fill="#F8766D" stroke="#333333" stroke-width="0.8"/><line x1="303.4" y1="150" x2="321.8" y2="150" stroke="#333333" stroke-width="1.6"/>
<circle cx="312.5" cy="74.2" r="1.3" fill="#222"/>
<circle cx="312.5" cy="89.2" r="1.3" fill="#222"/>
<circle cx="312.5" cy="104.4" r="1.3" fill="#222"/>
<path d="M401.60,56.00 L401.57,56.34 L401.52,56.76 L401.47,57.26 L401.41,57.81 L401.35,58.42 L401.28,59.06 L401.21,59.73 L401.14,60.41 L401.08,61.09 L401.01,61.75 L400.95,62.39 L400.90,63.00 L400.85,63.57 L400.81,64.13 L400.77,64.68 L400.73,65.22 L400.69,65.76 L400.66,66.31 L400.62,66.87 L400.58,67.44 L400.54,68.04 L400.50,68.66 L400.45,69.31 L400.40,70.00 L400.35,70.73 L400.32,71.52 L400.29,72.34 L400.26,73.19 L400.23,74.06 L400.19,74.94 L400.15,75.82 L400.09,76.70 L400.00,77.57 L399.90,78.41 L399.77,79.23 L399.60,80.00 L399.41,80.74 L399.19,81.47 L398.95,82.19 L398.70,82.89 L398.42,83.58 L398.12,84.25 L397.81,84.91 L397.48,85.56 L397.13,86.19 L396.77,86.81 L396.39,87.41 L396.00,88.00 L395.59,88.57 L395.15,89.12 L394.69,89.64 L394.21,90.15 L393.72,90.64 L393.21,91.12 L392.69,91.60 L392.16,92.07 L391.63,92.55 L391.09,93.02 L390.54,93.51 L390.00,94.00 L389.44,94.50 L388.85,95.00 L388.24,95.50 L387.61,96.00 L386.97,96.50 L386.34,97.00 L385.71,97.50 L385.10,98.00 L384.52,98.50 L383.97,99.00 L383.46,99.50 L383.00,100.00 L382.58,100.49 L382.20,100.98 L381.84,101.45 L381.51,101.93 L381.21,102.40 L380.93,102.88 L380.66,103.36 L380.42,103.85 L380.20,104.36 L379.99,104.88 L379.79,105.43 L379.60,106.00 L379.43,106.59 L379.28,107.19 L379.15,107.81 L379.04,108.44 L378.94,109.09 L378.86,109.75 L378.80,110.42 L378.74,111.11 L378.70,111.81 L378.66,112.53 L378.63,113.26 L378.60,114.00 L378.58,114.76 L378.58,115.53 L378.59,116.31 L378.61,117.11 L378.64,117.92 L378.68,118.75 L378.72,119.59 L378.77,120.44 L378.83,121.31 L378.88,122.19 L378.94,123.09 L379.00,124.00 L379.06,124.93 L379.12,125.88 L379.18,126.86 L379.24,127.85 L379.31,128.86 L379.39,129.88 L379.47,130.90 L379.56,131.93 L379.65,132.95 L379.76,133.98 L379.87,134.99 L380.00,136.00 L380.13,137.00 L380.26,138.00 L380.38,139.00 L380.51,140.00 L380.65,141.00 L380.80,142.00 L380.97,143.00 L381.16,144.00 L381.37,145.00 L381.61,146.00 L381.89,147.00 L382.20,148.00 L382.56,149.01 L382.96,150.02 L383.39,151.05 L383.86,152.07 L384.35,153.10 L384.86,154.12 L385.39,155.14 L385.92,156.15 L386.45,157.14 L386.98,158.12 L387.50,159.07 L388.00,160.00 L388.50,160.90 L389.00,161.78 L389.51,162.64 L390.02,163.48 L390.54,164.31 L391.05,165.12 L391.56,165.93 L392.07,166.74 L392.57,167.55 L393.06,168.36 L393.53,169.17 L394.00,170.00 L394.46,170.84 L394.92,171.68 L395.38,172.52 L395.83,173.37 L396.28,174.22 L396.71,175.06 L397.14,175.90 L397.55,176.74 L397.94,177.57 L398.32,178.39 L398.67,179.20 L399.00,180.00 L399.31,180.81 L399.60,181.66 L399.88,182.53 L400.14,183.41 L400.39,184.28 L400.61,185.12 L400.82,185.94 L401.01,186.70 L401.19,187.41 L401.34,188.03 L401.48,188.57 L401.60,189.00 L401.60,189.00 L401.72,188.57 L401.86,188.03 L402.01,187.41 L402.19,186.70 L402.38,185.94 L402.59,185.12 L402.81,184.28 L403.06,183.41 L403.32,182.53 L403.60,181.66 L403.89,180.81 L404.20,180.00 L404.53,179.20 L404.88,178.39 L405.26,177.57 L405.65,176.74 L406.06,175.90 L406.49,175.06 L406.92,174.22 L407.37,173.37 L407.82,172.52 L408.28,171.68 L408.74,170.84 L409.20,170.00 L409.67,169.17 L410.14,168.36 L410.63,167.55 L411.13,166.74 L411.64,165.93 L412.15,165.12 L412.66,164.31 L413.18,163.48 L413.69,162.64 L414.20,161.78 L414.70,160.90 L415.20,160.00 L415.70,159.07 L416.22,158.12 L416.75,157.14 L417.28,156.15 L417.81,155.14 L418.34,154.12 L418.85,153.10 L419.34,152.07 L419.81,151.05 L420.24,150.02 L420.64,149.01 L421.00,148.00 L421.31,147.00 L421.59,146.00 L421.83,145.00 L422.04,144.00 L422.23,143.00 L422.40,142.00 L422.55,141.00 L422.69,140.00 L422.82,139.00 L422.94,138.00 L423.07,137.00 L423.20,136.00 L423.33,134.99 L423.44,133.98 L423.55,132.95 L423.64,131.93 L423.73,130.90 L423.81,129.88 L423.89,128.86 L423.96,127.85 L424.02,126.86 L424.08,125.88 L424.14,124.93 L424.20,124.00 L424.26,123.09 L424.32,122.19 L424.38,121.31 L424.43,120.44 L424.48,119.59 L424.53,118.75 L424.56,117.92 L424.59,117.11 L424.61,116.31 L424.62,115.53 L424.62,114.76 L424.60,114.00 L424.57,113.26 L424.54,112.53 L424.50,111.81 L424.46,111.11 L424.40,110.42 L424.34,109.75 L424.26,109.09 L424.16,108.44 L424.05,107.81 L423.92,107.19 L423.77,106.59 L423.60,106.00 L423.41,105.43 L423.21,104.88 L423.00,104.36 L422.78,103.85 L422.54,103.36 L422.28,102.88 L421.99,102.40 L421.69,101.93 L421.36,101.45 L421.00,100.98 L420.62,100.49 L420.20,100.00 L419.74,99.50 L419.23,99.00 L418.68,98.50 L418.10,98.00 L417.49,97.50 L416.86,97.00 L416.23,96.50 L415.59,96.00 L414.96,95.50 L414.35,95.00 L413.76,94.50 L413.20,94.00 L412.66,93.51 L412.11,93.02 L411.57,92.55 L411.04,92.07 L410.51,91.60 L409.99,91.12 L409.48,90.64 L408.99,90.15 L408.51,89.64 L408.05,89.12 L407.61,88.57 L407.20,88.00 L406.81,87.41 L406.43,86.81 L406.07,86.19 L405.72,85.56 L405.39,84.91 L405.08,84.25 L404.78,83.58 L404.50,82.89 L404.25,82.19 L404.01,81.47 L403.79,80.74 L403.60,80.00 L403.43,79.23 L403.30,78.41 L403.20,77.57 L403.11,76.70 L403.05,75.82 L403.01,74.94 L402.97,74.06 L402.94,73.19 L402.91,72.34 L402.88,71.52 L402.85,70.73 L402.80,70.00 L402.75,69.31 L402.70,68.66 L402.66,68.04 L402.62,67.44 L402.58,66.87 L402.54,66.31 L402.51,65.76 L402.47,65.22 L402.43,64.68 L402.39,64.13 L402.35,63.57 L402.30,63.00 L402.25,62.39 L402.19,61.75 L402.12,61.09 L402.06,60.41 L401.99,59.73 L401.92,59.06 L401.85,58.42 L401.79,57.81 L401.73,57.26 L401.68,56.76 L401.63,56.34 L401.60,56.00Z" fill="#00BFC4"/>
<line x1="401.6" y1="63" x2="401.6" y2="104.4" stroke="#333333" stroke-width="0.8"/><line x1="401.6" y1="149.6" x2="401.6" y2="165" stroke="#333333" stroke-width="0.8"/><rect x="392.4" y="104.4" width="18.200000000000045" height="45.19999999999999" fill="#00BFC4" stroke="#333333" stroke-width="0.8"/><line x1="392.4" y1="127.4" x2="410.6" y2="127.4" stroke="#333333" stroke-width="1.6"/>
<text x="339.2" y="74" font-family='"Liberation Serif", serif' font-size="13.68" fill="#000">T−test, p = 0.016</text>
<line x1="489.05" y1="35" x2="489.05" y2="205.55" stroke="#000" stroke-width="1.28"/><line x1="488.41" y1="205.0" x2="684" y2="205.0" stroke="#000" stroke-width="1.12"/><line x1="486.8" y1="174.2" x2="489" y2="174.2" stroke="#333" stroke-width="0.7"/><text x="486.3" y="177.6" font-family='"Liberation Serif", serif' font-size="9.55" text-anchor="end" fill="#4d4d4d">0.0</text><line x1="486.8" y1="129.4" x2="489" y2="129.4" stroke="#333" stroke-width="0.7"/><text x="486.3" y="132.8" font-family='"Liberation Serif", serif' font-size="9.55" text-anchor="end" fill="#4d4d4d">0.2</text><line x1="486.8" y1="84.6" x2="489" y2="84.6" stroke="#333" stroke-width="0.7"/><text x="486.3" y="88.0" font-family='"Liberation Serif", serif' font-size="9.55" text-anchor="end" fill="#4d4d4d">0.4</text><line x1="486.8" y1="39.8" x2="489" y2="39.8" stroke="#333" stroke-width="0.7"/><text x="486.3" y="43.199999999999996" font-family='"Liberation Serif", serif' font-size="9.55" text-anchor="end" fill="#4d4d4d">0.6</text><line x1="542" y1="204.6" x2="542" y2="206.9" stroke="#333" stroke-width="0.7"/><text x="542" y="215.8" font-family='"Liberation Serif", serif' font-size="10.75" text-anchor="middle" fill="#1a1a1a">iTLS−</text><line x1="630.6" y1="204.6" x2="630.6" y2="206.9" stroke="#333" stroke-width="0.7"/><text x="630.6" y="215.8" font-family='"Liberation Serif", serif' font-size="10.75" text-anchor="middle" fill="#1a1a1a">iTLS+</text><text x="586.5" y="227" font-family='"Liberation Serif", serif' font-size="10.9" text-anchor="middle" fill="#000">iTLS status</text><text transform="translate(468.5,119.8) rotate(-90)" text-anchor="middle" font-family='"Liberation Serif", serif' font-size="11" fill="#000">Thickness</text><text x="489" y="29.2" font-family='"Liberation Serif", serif' font-size="13.2" fill="#000">Thickness of fibrosis in tumor</text>
<path d="M542.00,53.00 L541.96,53.24 L541.91,53.55 L541.85,53.92 L541.78,54.33 L541.71,54.77 L541.63,55.24 L541.55,55.72 L541.47,56.21 L541.40,56.69 L541.33,57.16 L541.26,57.60 L541.20,58.00 L541.14,58.38 L541.09,58.74 L541.03,59.09 L540.97,59.44 L540.92,59.78 L540.87,60.11 L540.82,60.45 L540.78,60.79 L540.75,61.13 L540.72,61.47 L540.71,61.83 L540.70,62.20 L540.71,62.58 L540.72,62.97 L540.75,63.36 L540.78,63.76 L540.82,64.17 L540.87,64.58 L540.92,64.98 L540.97,65.39 L541.03,65.80 L541.09,66.20 L541.14,66.61 L541.20,67.00 L541.26,67.40 L541.33,67.83 L541.40,68.27 L541.47,68.72 L541.55,69.16 L541.63,69.60 L541.71,70.02 L541.78,70.41 L541.85,70.78 L541.91,71.10 L541.96,71.38 L542.00,71.60 L542.00,71.60 L542.04,71.38 L542.09,71.10 L542.15,70.78 L542.22,70.41 L542.29,70.02 L542.37,69.60 L542.45,69.16 L542.53,68.72 L542.60,68.27 L542.67,67.83 L542.74,67.40 L542.80,67.00 L542.86,66.61 L542.91,66.20 L542.97,65.80 L543.03,65.39 L543.08,64.98 L543.13,64.58 L543.18,64.17 L543.22,63.76 L543.25,63.36 L543.28,62.97 L543.29,62.58 L543.30,62.20 L543.29,61.83 L543.28,61.47 L543.25,61.13 L543.22,60.79 L543.18,60.45 L543.13,60.11 L543.08,59.78 L543.03,59.44 L542.97,59.09 L542.91,58.74 L542.86,58.38 L542.80,58.00 L542.74,57.60 L542.67,57.16 L542.60,56.69 L542.53,56.21 L542.45,55.72 L542.37,55.24 L542.29,54.77 L542.22,54.33 L542.15,53.92 L542.09,53.55 L542.04,53.24 L542.00,53.00Z" fill="#F8766D"/>
<path d="M542.00,94.00 L541.90,94.29 L541.77,94.64 L541.62,95.05 L541.44,95.52 L541.26,96.02 L541.06,96.56 L540.86,97.13 L540.67,97.70 L540.48,98.29 L540.30,98.87 L540.14,99.45 L540.00,100.00 L539.87,100.55 L539.75,101.11 L539.62,101.68 L539.50,102.26 L539.39,102.85 L539.28,103.44 L539.19,104.03 L539.11,104.63 L539.05,105.23 L539.01,105.82 L538.99,106.41 L539.00,107.00 L539.04,107.59 L539.13,108.18 L539.25,108.77 L539.39,109.37 L539.55,109.97 L539.72,110.56 L539.89,111.15 L540.06,111.74 L540.21,112.32 L540.34,112.89 L540.44,113.45 L540.50,114.00 L540.53,114.52 L540.55,115.01 L540.55,115.48 L540.54,115.93 L540.51,116.37 L540.47,116.81 L540.42,117.27 L540.35,117.74 L540.28,118.24 L540.19,118.78 L540.10,119.36 L540.00,120.00 L539.89,120.69 L539.75,121.44 L539.61,122.22 L539.44,123.04 L539.27,123.88 L539.09,124.75 L538.91,125.63 L538.72,126.52 L538.54,127.41 L538.35,128.29 L538.17,129.15 L538.00,130.00 L537.84,130.85 L537.69,131.71 L537.55,132.59 L537.41,133.48 L537.27,134.37 L537.12,135.25 L536.98,136.12 L536.81,136.96 L536.64,137.78 L536.45,138.56 L536.24,139.31 L536.00,140.00 L535.73,140.64 L535.44,141.23 L535.12,141.78 L534.78,142.30 L534.42,142.78 L534.06,143.25 L533.70,143.70 L533.33,144.15 L532.98,144.59 L532.63,145.05 L532.30,145.51 L532.00,146.00 L531.71,146.50 L531.41,147.00 L531.12,147.50 L530.83,148.00 L530.55,148.50 L530.27,149.00 L530.02,149.50 L529.77,150.00 L529.54,150.50 L529.34,151.00 L529.16,151.50 L529.00,152.00 L528.89,152.50 L528.82,153.00 L528.79,153.50 L528.79,154.00 L528.81,154.50 L528.84,155.00 L528.86,155.50 L528.87,156.00 L528.86,156.50 L528.82,157.00 L528.74,157.50 L528.60,158.00 L528.43,158.51 L528.26,159.02 L528.08,159.55 L527.87,160.07 L527.65,160.60 L527.40,161.12 L527.12,161.64 L526.79,162.15 L526.42,162.64 L526.01,163.12 L525.53,163.57 L525.00,164.00 L524.39,164.40 L523.70,164.78 L522.95,165.14 L522.14,165.48 L521.29,165.81 L520.40,166.12 L519.49,166.43 L518.57,166.74 L517.65,167.05 L516.74,167.36 L515.85,167.67 L515.00,168.00 L514.14,168.34 L513.25,168.69 L512.32,169.05 L511.39,169.41 L510.45,169.77 L509.52,170.12 L508.63,170.48 L507.77,170.81 L506.97,171.14 L506.23,171.45 L505.57,171.74 L505.00,172.00 L504.51,172.23 L504.08,172.44 L503.71,172.62 L503.39,172.78 L503.12,172.92 L502.90,173.06 L502.73,173.20 L502.61,173.33 L502.54,173.48 L502.52,173.63 L502.54,173.80 L502.60,174.00 L502.71,174.21 L502.88,174.44 L503.09,174.68 L503.36,174.93 L503.67,175.18 L504.02,175.44 L504.43,175.70 L504.87,175.96 L505.35,176.23 L505.86,176.49 L506.42,176.75 L507.00,177.00 L507.63,177.25 L508.32,177.49 L509.06,177.73 L509.84,177.96 L510.67,178.20 L511.52,178.44 L512.41,178.68 L513.31,178.93 L514.23,179.18 L515.15,179.44 L516.08,179.71 L517.00,180.00 L517.94,180.30 L518.93,180.61 L519.95,180.93 L521.00,181.26 L522.06,181.60 L523.12,181.94 L524.18,182.28 L525.22,182.63 L526.23,182.98 L527.21,183.32 L528.13,183.66 L529.00,184.00 L529.82,184.33 L530.60,184.66 L531.35,184.98 L532.07,185.30 L532.77,185.62 L533.44,185.94 L534.08,186.26 L534.70,186.59 L535.30,186.93 L535.89,187.28 L536.45,187.63 L537.00,188.00 L537.54,188.40 L538.06,188.83 L538.58,189.30 L539.07,189.78 L539.55,190.27 L540.00,190.75 L540.42,191.22 L540.81,191.67 L541.17,192.08 L541.49,192.44 L541.77,192.76 L542.00,193.00 L542.00,193.00 L542.23,192.76 L542.51,192.44 L542.83,192.08 L543.19,191.67 L543.58,191.22 L544.00,190.75 L544.45,190.27 L544.93,189.78 L545.42,189.30 L545.94,188.83 L546.46,188.40 L547.00,188.00 L547.55,187.63 L548.11,187.28 L548.70,186.93 L549.30,186.59 L549.92,186.26 L550.56,185.94 L551.23,185.62 L551.93,185.30 L552.65,184.98 L553.40,184.66 L554.18,184.33 L555.00,184.00 L555.87,183.66 L556.79,183.32 L557.77,182.98 L558.78,182.63 L559.82,182.28 L560.88,181.94 L561.94,181.60 L563.00,181.26 L564.05,180.93 L565.07,180.61 L566.06,180.30 L567.00,180.00 L567.92,179.71 L568.85,179.44 L569.77,179.18 L570.69,178.93 L571.59,178.68 L572.48,178.44 L573.33,178.20 L574.16,177.96 L574.94,177.73 L575.68,177.49 L576.37,177.25 L577.00,177.00 L577.58,176.75 L578.14,176.49 L578.65,176.23 L579.13,175.96 L579.57,175.70 L579.98,175.44 L580.33,175.18 L580.64,174.93 L580.91,174.68 L581.12,174.44 L581.29,174.21 L581.40,174.00 L581.46,173.80 L581.48,173.63 L581.46,173.48 L581.39,173.33 L581.27,173.20 L581.10,173.06 L580.88,172.92 L580.61,172.78 L580.29,172.62 L579.92,172.44 L579.49,172.23 L579.00,172.00 L578.43,171.74 L577.77,171.45 L577.03,171.14 L576.23,170.81 L575.37,170.48 L574.48,170.12 L573.55,169.77 L572.61,169.41 L571.68,169.05 L570.75,168.69 L569.86,168.34 L569.00,168.00 L568.15,167.67 L567.26,167.36 L566.35,167.05 L565.43,166.74 L564.51,166.43 L563.60,166.12 L562.71,165.81 L561.86,165.48 L561.05,165.14 L560.30,164.78 L559.61,164.40 L559.00,164.00 L558.47,163.57 L557.99,163.12 L557.58,162.64 L557.21,162.15 L556.88,161.64 L556.60,161.12 L556.35,160.60 L556.13,160.07 L555.92,159.55 L555.74,159.02 L555.57,158.51 L555.40,158.00 L555.26,157.50 L555.18,157.00 L555.14,156.50 L555.13,156.00 L555.14,155.50 L555.16,155.00 L555.19,154.50 L555.21,154.00 L555.21,153.50 L555.18,153.00 L555.11,152.50 L555.00,152.00 L554.84,151.50 L554.66,151.00 L554.46,150.50 L554.23,150.00 L553.98,149.50 L553.73,149.00 L553.45,148.50 L553.17,148.00 L552.88,147.50 L552.59,147.00 L552.29,146.50 L552.00,146.00 L551.70,145.51 L551.37,145.05 L551.02,144.59 L550.67,144.15 L550.30,143.70 L549.94,143.25 L549.58,142.78 L549.22,142.30 L548.88,141.78 L548.56,141.23 L548.27,140.64 L548.00,140.00 L547.76,139.31 L547.55,138.56 L547.36,137.78 L547.19,136.96 L547.02,136.12 L546.88,135.25 L546.73,134.37 L546.59,133.48 L546.45,132.59 L546.31,131.71 L546.16,130.85 L546.00,130.00 L545.83,129.15 L545.65,128.29 L545.46,127.41 L545.28,126.52 L545.09,125.63 L544.91,124.75 L544.73,123.88 L544.56,123.04 L544.39,122.22 L544.25,121.44 L544.11,120.69 L544.00,120.00 L543.90,119.36 L543.81,118.78 L543.72,118.24 L543.65,117.74 L543.58,117.27 L543.53,116.81 L543.49,116.37 L543.46,115.93 L543.45,115.48 L543.45,115.01 L543.47,114.52 L543.50,114.00 L543.56,113.45 L543.66,112.89 L543.79,112.32 L543.94,111.74 L544.11,111.15 L544.28,110.56 L544.45,109.97 L544.61,109.37 L544.75,108.77 L544.87,108.18 L544.96,107.59 L545.00,107.00 L545.01,106.41 L544.99,105.82 L544.95,105.23 L544.89,104.63 L544.81,104.03 L544.72,103.44 L544.61,102.85 L544.50,102.26 L544.38,101.68 L544.25,101.11 L544.13,100.55 L544.00,100.00 L543.86,99.45 L543.70,98.87 L543.52,98.29 L543.33,97.70 L543.14,97.13 L542.94,96.56 L542.74,96.02 L542.56,95.52 L542.38,95.05 L542.23,94.64 L542.10,94.29 L542.00,94.00Z" fill="#F8766D"/>
<line x1="542" y1="129.4" x2="542" y2="151.4" stroke="#333333" stroke-width="0.8"/><rect x="533" y="151.4" width="18.399999999999977" height="22.599999999999994" fill="#F8766D" stroke="#333333" stroke-width="0.8"/><line x1="533" y1="174" x2="551.4" y2="174" stroke="#333333" stroke-width="1.6"/>
<circle cx="542" cy="62.2" r="1.3" fill="#222"/>
<circle cx="542" cy="107" r="1.3" fill="#222"/>
<path d="M630.60,72.00 L630.54,72.57 L630.46,73.26 L630.37,74.06 L630.26,74.96 L630.14,75.95 L630.02,77.00 L629.90,78.11 L629.79,79.26 L629.67,80.44 L629.57,81.63 L629.48,82.82 L629.40,84.00 L629.34,85.21 L629.29,86.48 L629.24,87.81 L629.21,89.19 L629.18,90.59 L629.15,92.00 L629.13,93.41 L629.10,94.81 L629.08,96.19 L629.06,97.52 L629.03,98.79 L629.00,100.00 L628.97,101.15 L628.96,102.28 L628.95,103.38 L628.95,104.44 L628.94,105.49 L628.94,106.50 L628.92,107.49 L628.90,108.44 L628.85,109.38 L628.79,110.28 L628.71,111.15 L628.60,112.00 L628.46,112.81 L628.30,113.56 L628.11,114.28 L627.91,114.96 L627.69,115.62 L627.46,116.25 L627.22,116.87 L626.98,117.48 L626.73,118.09 L626.48,118.71 L626.24,119.35 L626.00,120.00 L625.76,120.67 L625.49,121.33 L625.22,122.00 L624.93,122.67 L624.65,123.33 L624.36,124.00 L624.09,124.67 L623.82,125.33 L623.58,126.00 L623.35,126.67 L623.16,127.33 L623.00,128.00 L622.89,128.67 L622.82,129.36 L622.79,130.05 L622.79,130.74 L622.81,131.43 L622.84,132.12 L622.86,132.81 L622.87,133.48 L622.86,134.14 L622.82,134.78 L622.74,135.40 L622.60,136.00 L622.42,136.57 L622.20,137.12 L621.96,137.64 L621.69,138.15 L621.40,138.64 L621.09,139.12 L620.76,139.60 L620.42,140.07 L620.07,140.55 L619.72,141.02 L619.36,141.51 L619.00,142.00 L618.62,142.50 L618.20,143.01 L617.75,143.52 L617.29,144.04 L616.81,144.55 L616.34,145.06 L615.87,145.57 L615.42,146.07 L615.00,146.57 L614.62,147.06 L614.28,147.54 L614.00,148.00 L613.77,148.45 L613.57,148.89 L613.40,149.32 L613.26,149.74 L613.15,150.15 L613.06,150.56 L613.00,150.97 L612.96,151.37 L612.95,151.77 L612.95,152.18 L612.97,152.59 L613.00,153.00 L613.06,153.42 L613.17,153.84 L613.31,154.27 L613.48,154.70 L613.67,155.13 L613.88,155.56 L614.09,155.99 L614.30,156.41 L614.50,156.82 L614.69,157.22 L614.86,157.62 L615.00,158.00 L615.13,158.37 L615.28,158.72 L615.44,159.07 L615.59,159.41 L615.74,159.74 L615.88,160.06 L615.99,160.38 L616.07,160.70 L616.12,161.02 L616.13,161.34 L616.09,161.67 L616.00,162.00 L615.84,162.33 L615.63,162.67 L615.38,163.00 L615.07,163.33 L614.74,163.67 L614.38,164.00 L613.99,164.33 L613.59,164.67 L613.19,165.00 L612.78,165.33 L612.38,165.67 L612.00,166.00 L611.61,166.33 L611.19,166.67 L610.74,167.01 L610.28,167.35 L609.82,167.69 L609.35,168.03 L608.89,168.36 L608.45,168.70 L608.03,169.03 L607.65,169.36 L607.30,169.68 L607.00,170.00 L606.74,170.31 L606.50,170.63 L606.29,170.93 L606.10,171.24 L605.93,171.54 L605.79,171.84 L605.67,172.13 L605.57,172.43 L605.50,172.72 L605.44,173.02 L605.41,173.31 L605.40,173.60 L605.40,173.89 L605.42,174.16 L605.45,174.43 L605.50,174.69 L605.57,174.95 L605.66,175.21 L605.79,175.48 L605.95,175.76 L606.15,176.04 L606.38,176.34 L606.67,176.66 L607.00,177.00 L607.39,177.36 L607.83,177.74 L608.32,178.14 L608.86,178.55 L609.43,178.97 L610.04,179.40 L610.67,179.84 L611.32,180.27 L611.98,180.71 L612.66,181.15 L613.33,181.58 L614.00,182.00 L614.69,182.42 L615.43,182.84 L616.20,183.27 L617.00,183.70 L617.81,184.13 L618.62,184.56 L619.43,184.99 L620.22,185.41 L620.98,185.82 L621.71,186.22 L622.38,186.62 L623.00,187.00 L623.56,187.37 L624.09,187.72 L624.59,188.07 L625.05,188.41 L625.49,188.74 L625.90,189.06 L626.29,189.38 L626.66,189.70 L627.01,190.02 L627.35,190.34 L627.68,190.67 L628.00,191.00 L628.31,191.35 L628.60,191.71 L628.88,192.09 L629.14,192.48 L629.39,192.87 L629.61,193.25 L629.82,193.62 L630.01,193.96 L630.19,194.28 L630.34,194.56 L630.48,194.81 L630.60,195.00 L630.60,195.00 L630.72,194.81 L630.86,194.56 L631.01,194.28 L631.19,193.96 L631.38,193.62 L631.59,193.25 L631.81,192.87 L632.06,192.48 L632.32,192.09 L632.60,191.71 L632.89,191.35 L633.20,191.00 L633.52,190.67 L633.85,190.34 L634.19,190.02 L634.54,189.70 L634.91,189.38 L635.30,189.06 L635.71,188.74 L636.15,188.41 L636.61,188.07 L637.11,187.72 L637.64,187.37 L638.20,187.00 L638.82,186.62 L639.49,186.22 L640.22,185.82 L640.98,185.41 L641.77,184.99 L642.58,184.56 L643.39,184.13 L644.20,183.70 L645.00,183.27 L645.77,182.84 L646.51,182.42 L647.20,182.00 L647.87,181.58 L648.54,181.15 L649.22,180.71 L649.88,180.27 L650.53,179.84 L651.16,179.40 L651.77,178.97 L652.34,178.55 L652.88,178.14 L653.37,177.74 L653.81,177.36 L654.20,177.00 L654.53,176.66 L654.82,176.34 L655.05,176.04 L655.25,175.76 L655.41,175.48 L655.54,175.21 L655.63,174.95 L655.70,174.69 L655.75,174.43 L655.78,174.16 L655.80,173.89 L655.80,173.60 L655.79,173.31 L655.76,173.02 L655.70,172.72 L655.63,172.43 L655.53,172.13 L655.41,171.84 L655.27,171.54 L655.10,171.24 L654.91,170.93 L654.70,170.63 L654.46,170.31 L654.20,170.00 L653.90,169.68 L653.55,169.36 L653.17,169.03 L652.75,168.70 L652.31,168.36 L651.85,168.03 L651.38,167.69 L650.92,167.35 L650.46,167.01 L650.01,166.67 L649.59,166.33 L649.20,166.00 L648.82,165.67 L648.42,165.33 L648.01,165.00 L647.61,164.67 L647.21,164.33 L646.83,164.00 L646.46,163.67 L646.13,163.33 L645.83,163.00 L645.57,162.67 L645.36,162.33 L645.20,162.00 L645.11,161.67 L645.07,161.34 L645.08,161.02 L645.13,160.70 L645.21,160.38 L645.33,160.06 L645.46,159.74 L645.61,159.41 L645.76,159.07 L645.92,158.72 L646.07,158.37 L646.20,158.00 L646.34,157.62 L646.51,157.22 L646.70,156.82 L646.90,156.41 L647.11,155.99 L647.33,155.56 L647.53,155.13 L647.72,154.70 L647.89,154.27 L648.03,153.84 L648.14,153.42 L648.20,153.00 L648.23,152.59 L648.25,152.18 L648.25,151.77 L648.24,151.37 L648.20,150.97 L648.14,150.56 L648.05,150.15 L647.94,149.74 L647.80,149.32 L647.63,148.89 L647.43,148.45 L647.20,148.00 L646.92,147.54 L646.58,147.06 L646.20,146.57 L645.78,146.07 L645.33,145.57 L644.86,145.06 L644.39,144.55 L643.91,144.04 L643.45,143.52 L643.00,143.01 L642.58,142.50 L642.20,142.00 L641.84,141.51 L641.48,141.02 L641.13,140.55 L640.78,140.07 L640.44,139.60 L640.11,139.12 L639.80,138.64 L639.51,138.15 L639.24,137.64 L639.00,137.12 L638.78,136.57 L638.60,136.00 L638.46,135.40 L638.38,134.78 L638.34,134.14 L638.33,133.48 L638.34,132.81 L638.36,132.12 L638.39,131.43 L638.41,130.74 L638.41,130.05 L638.38,129.36 L638.31,128.67 L638.20,128.00 L638.04,127.33 L637.85,126.67 L637.62,126.00 L637.38,125.33 L637.11,124.67 L636.84,124.00 L636.55,123.33 L636.27,122.67 L635.98,122.00 L635.71,121.33 L635.44,120.67 L635.20,120.00 L634.96,119.35 L634.72,118.71 L634.47,118.09 L634.22,117.48 L633.98,116.87 L633.74,116.25 L633.51,115.62 L633.29,114.96 L633.09,114.28 L632.90,113.56 L632.74,112.81 L632.60,112.00 L632.49,111.15 L632.41,110.28 L632.35,109.38 L632.30,108.44 L632.28,107.49 L632.26,106.50 L632.26,105.49 L632.25,104.44 L632.25,103.38 L632.24,102.28 L632.23,101.15 L632.20,100.00 L632.17,98.79 L632.14,97.52 L632.12,96.19 L632.10,94.81 L632.07,93.41 L632.05,92.00 L632.02,90.59 L631.99,89.19 L631.96,87.81 L631.91,86.48 L631.86,85.21 L631.80,84.00 L631.72,82.82 L631.63,81.63 L631.53,80.44 L631.41,79.26 L631.30,78.11 L631.18,77.00 L631.06,75.95 L630.94,74.96 L630.83,74.06 L630.74,73.26 L630.66,72.57 L630.60,72.00Z" fill="#00BFC4"/>
<line x1="630.6" y1="129.4" x2="630.6" y2="151.4" stroke="#333333" stroke-width="0.8"/><rect x="621.6" y="151.4" width="18.0" height="22.599999999999994" fill="#00BFC4" stroke="#333333" stroke-width="0.8"/><line x1="621.6" y1="174" x2="639.6" y2="174" stroke="#333333" stroke-width="1.6"/>
<circle cx="630.6" cy="84.6" r="1.3" fill="#222"/>
<circle cx="630.6" cy="107" r="1.3" fill="#222"/>
<text x="569.2" y="62.6" font-family='"Liberation Serif", serif' font-size="13.68" fill="#000">T−test, p = 0.33</text>
<line x1="35.4" y1="491.5" x2="35.4" y2="619.15" stroke="#000" stroke-width="1.28"/><line x1="34.76" y1="618.6" x2="225.4" y2="618.6" stroke="#000" stroke-width="1.12"/><line x1="33.8" y1="589.7" x2="36" y2="589.7" stroke="#333" stroke-width="0.7"/><text x="33.3" y="593.1" font-family='"Liberation Serif", serif' font-size="9.55" text-anchor="end" fill="#4d4d4d">0.00</text><line x1="33.8" y1="560.7" x2="36" y2="560.7" stroke="#333" stroke-width="0.7"/><text x="33.3" y="564.1" font-family='"Liberation Serif", serif' font-size="9.55" text-anchor="end" fill="#4d4d4d">0.25</text><line x1="33.8" y1="531.7" x2="36" y2="531.7" stroke="#333" stroke-width="0.7"/><text x="33.3" y="535.1" font-family='"Liberation Serif", serif' font-size="9.55" text-anchor="end" fill="#4d4d4d">0.50</text><line x1="33.8" y1="502.8" x2="36" y2="502.8" stroke="#333" stroke-width="0.7"/><text x="33.3" y="506.2" font-family='"Liberation Serif", serif' font-size="9.55" text-anchor="end" fill="#4d4d4d">0.75</text><line x1="87.4" y1="618.4" x2="87.4" y2="620.6999999999999" stroke="#333" stroke-width="0.7"/><text x="87.4" y="628.7" font-family='"Liberation Serif", serif' font-size="10.75" text-anchor="middle" fill="#1a1a1a">pTLS−</text><line x1="173.6" y1="618.4" x2="173.6" y2="620.6999999999999" stroke="#333" stroke-width="0.7"/><text x="173.6" y="628.7" font-family='"Liberation Serif", serif' font-size="10.75" text-anchor="middle" fill="#1a1a1a">pTLS+</text><text x="130.7" y="640.4" font-family='"Liberation Serif", serif' font-size="10.9" text-anchor="middle" fill="#000">pTLS status</text><text transform="translate(9.5,554.95) rotate(-90)" text-anchor="middle" font-family='"Liberation Serif", serif' font-size="11" fill="#000">Thickness</text><text x="36" y="485.7" font-family='"Liberation Serif", serif' font-size="13.2" fill="#000">Thickness of fibrosis arround tumor</text>
<path d="M87.40,506.00 L87.36,506.49 L87.31,507.11 L87.25,507.84 L87.19,508.67 L87.13,509.56 L87.05,510.50 L86.97,511.47 L86.87,512.44 L86.77,513.41 L86.66,514.33 L86.54,515.20 L86.40,516.00 L86.26,516.74 L86.13,517.45 L86.01,518.14 L85.87,518.81 L85.73,519.48 L85.58,520.12 L85.40,520.77 L85.19,521.41 L84.96,522.05 L84.68,522.69 L84.37,523.34 L84.00,524.00 L83.57,524.67 L83.09,525.36 L82.55,526.05 L81.97,526.74 L81.36,527.43 L80.73,528.12 L80.08,528.81 L79.43,529.48 L78.79,530.14 L78.16,530.78 L77.56,531.40 L77.00,532.00 L76.46,532.57 L75.91,533.12 L75.36,533.64 L74.81,534.15 L74.28,534.64 L73.75,535.12 L73.24,535.60 L72.74,536.07 L72.27,536.55 L71.81,537.02 L71.39,537.51 L71.00,538.00 L70.64,538.49 L70.30,538.98 L69.99,539.45 L69.70,539.93 L69.44,540.40 L69.19,540.88 L68.96,541.36 L68.74,541.85 L68.54,542.36 L68.35,542.88 L68.17,543.43 L68.00,544.00 L67.85,544.60 L67.75,545.22 L67.67,545.86 L67.61,546.52 L67.56,547.19 L67.53,547.88 L67.49,548.57 L67.44,549.26 L67.37,549.95 L67.28,550.64 L67.16,551.33 L67.00,552.00 L66.80,552.67 L66.57,553.36 L66.31,554.05 L66.03,554.74 L65.73,555.43 L65.43,556.12 L65.11,556.81 L64.79,557.48 L64.48,558.14 L64.17,558.78 L63.88,559.40 L63.60,560.00 L63.33,560.58 L63.05,561.14 L62.77,561.69 L62.48,562.22 L62.20,562.74 L61.93,563.25 L61.66,563.74 L61.41,564.22 L61.17,564.69 L60.96,565.14 L60.76,565.58 L60.60,566.00 L60.46,566.40 L60.34,566.76 L60.23,567.09 L60.15,567.41 L60.08,567.71 L60.03,568.00 L59.99,568.29 L59.96,568.59 L59.95,568.91 L59.96,569.24 L59.97,569.60 L60.00,570.00 L60.03,570.42 L60.06,570.86 L60.09,571.31 L60.13,571.78 L60.18,572.26 L60.25,572.75 L60.35,573.26 L60.47,573.78 L60.64,574.31 L60.84,574.86 L61.09,575.42 L61.40,576.00 L61.76,576.60 L62.17,577.22 L62.63,577.86 L63.13,578.52 L63.66,579.19 L64.23,579.88 L64.82,580.57 L65.43,581.26 L66.06,581.95 L66.70,582.64 L67.35,583.33 L68.00,584.00 L68.67,584.67 L69.38,585.33 L70.13,586.00 L70.90,586.67 L71.68,587.33 L72.48,588.00 L73.27,588.67 L74.06,589.33 L74.83,590.00 L75.59,590.67 L76.31,591.33 L77.00,592.00 L77.66,592.67 L78.32,593.33 L78.98,594.00 L79.61,594.67 L80.24,595.33 L80.85,596.00 L81.44,596.67 L82.01,597.33 L82.55,598.00 L83.06,598.67 L83.55,599.33 L84.00,600.00 L84.42,600.69 L84.81,601.43 L85.18,602.19 L85.53,602.96 L85.84,603.74 L86.14,604.50 L86.41,605.23 L86.65,605.93 L86.87,606.56 L87.07,607.13 L87.25,607.61 L87.40,608.00 L87.40,608.00 L87.55,607.61 L87.73,607.13 L87.93,606.56 L88.15,605.93 L88.39,605.23 L88.66,604.50 L88.96,603.74 L89.27,602.96 L89.62,602.19 L89.99,601.43 L90.38,600.69 L90.80,600.00 L91.25,599.33 L91.74,598.67 L92.25,598.00 L92.79,597.33 L93.36,596.67 L93.95,596.00 L94.56,595.33 L95.19,594.67 L95.83,594.00 L96.48,593.33 L97.14,592.67 L97.80,592.00 L98.49,591.33 L99.21,590.67 L99.97,590.00 L100.74,589.33 L101.53,588.67 L102.33,588.00 L103.12,587.33 L103.90,586.67 L104.67,586.00 L105.42,585.33 L106.13,584.67 L106.80,584.00 L107.45,583.33 L108.10,582.64 L108.74,581.95 L109.37,581.26 L109.98,580.57 L110.58,579.88 L111.14,579.19 L111.67,578.52 L112.17,577.86 L112.63,577.22 L113.04,576.60 L113.40,576.00 L113.71,575.42 L113.96,574.86 L114.16,574.31 L114.33,573.78 L114.45,573.26 L114.55,572.75 L114.62,572.26 L114.67,571.78 L114.71,571.31 L114.74,570.86 L114.77,570.42 L114.80,570.00 L114.83,569.60 L114.84,569.24 L114.85,568.91 L114.84,568.59 L114.81,568.29 L114.78,568.00 L114.72,567.71 L114.65,567.41 L114.57,567.09 L114.46,566.76 L114.34,566.40 L114.20,566.00 L114.04,565.58 L113.84,565.14 L113.63,564.69 L113.39,564.22 L113.14,563.74 L112.88,563.25 L112.60,562.74 L112.32,562.22 L112.03,561.69 L111.75,561.14 L111.47,560.58 L111.20,560.00 L110.92,559.40 L110.63,558.78 L110.32,558.14 L110.01,557.48 L109.69,556.81 L109.38,556.12 L109.07,555.43 L108.77,554.74 L108.49,554.05 L108.23,553.36 L108.00,552.67 L107.80,552.00 L107.64,551.33 L107.52,550.64 L107.43,549.95 L107.36,549.26 L107.31,548.57 L107.28,547.88 L107.24,547.19 L107.19,546.52 L107.13,545.86 L107.05,545.22 L106.95,544.60 L106.80,544.00 L106.63,543.43 L106.45,542.88 L106.26,542.36 L106.06,541.85 L105.84,541.36 L105.61,540.88 L105.36,540.40 L105.10,539.93 L104.81,539.45 L104.50,538.98 L104.16,538.49 L103.80,538.00 L103.41,537.51 L102.99,537.02 L102.53,536.55 L102.06,536.07 L101.56,535.60 L101.05,535.12 L100.52,534.64 L99.99,534.15 L99.44,533.64 L98.89,533.12 L98.34,532.57 L97.80,532.00 L97.24,531.40 L96.64,530.78 L96.01,530.14 L95.37,529.48 L94.72,528.81 L94.08,528.12 L93.44,527.43 L92.83,526.74 L92.25,526.05 L91.71,525.36 L91.23,524.67 L90.80,524.00 L90.43,523.34 L90.12,522.69 L89.84,522.05 L89.61,521.41 L89.40,520.77 L89.23,520.12 L89.07,519.48 L88.93,518.81 L88.79,518.14 L88.67,517.45 L88.54,516.74 L88.40,516.00 L88.26,515.20 L88.14,514.33 L88.03,513.41 L87.93,512.44 L87.83,511.47 L87.75,510.50 L87.67,509.56 L87.61,508.67 L87.55,507.84 L87.49,507.11 L87.44,506.49 L87.40,506.00Z" fill="#F8766D"/>
<line x1="87.4" y1="520" x2="87.4" y2="543.4" stroke="#333333" stroke-width="0.8"/><line x1="87.4" y1="578.4" x2="87.4" y2="590" stroke="#333333" stroke-width="0.8"/><rect x="78.4" y="543.4" width="17.799999999999997" height="35.0" fill="#F8766D" stroke="#333333" stroke-width="0.8"/><line x1="78.4" y1="566.4" x2="96.2" y2="566.4" stroke="#333333" stroke-width="1.6"/>
<path d="M173.60,505.60 L173.47,505.91 L173.30,506.29 L173.10,506.74 L172.87,507.24 L172.62,507.78 L172.36,508.36 L172.10,508.97 L171.84,509.59 L171.60,510.21 L171.37,510.82 L171.17,511.43 L171.00,512.00 L170.85,512.56 L170.71,513.13 L170.58,513.71 L170.45,514.29 L170.34,514.87 L170.24,515.46 L170.15,516.05 L170.08,516.64 L170.03,517.24 L170.00,517.83 L169.99,518.41 L170.00,519.00 L170.04,519.59 L170.12,520.18 L170.23,520.77 L170.36,521.37 L170.50,521.97 L170.66,522.56 L170.83,523.15 L171.00,523.74 L171.17,524.32 L171.33,524.89 L171.47,525.45 L171.60,526.00 L171.72,526.53 L171.84,527.05 L171.96,527.55 L172.07,528.04 L172.19,528.52 L172.30,529.00 L172.41,529.48 L172.50,529.96 L172.59,530.45 L172.67,530.95 L172.74,531.47 L172.80,532.00 L172.85,532.55 L172.91,533.11 L172.97,533.68 L173.03,534.26 L173.08,534.85 L173.11,535.44 L173.13,536.03 L173.13,536.63 L173.10,537.23 L173.03,537.82 L172.94,538.41 L172.80,539.00 L172.63,539.58 L172.45,540.16 L172.24,540.73 L172.01,541.30 L171.75,541.87 L171.46,542.44 L171.14,543.01 L170.79,543.59 L170.40,544.18 L169.98,544.78 L169.51,545.38 L169.00,546.00 L168.43,546.63 L167.80,547.28 L167.12,547.93 L166.39,548.59 L165.62,549.26 L164.82,549.94 L164.01,550.62 L163.19,551.30 L162.37,551.98 L161.56,552.66 L160.77,553.33 L160.00,554.00 L159.25,554.67 L158.50,555.33 L157.75,556.00 L157.00,556.67 L156.25,557.33 L155.50,558.00 L154.75,558.67 L154.00,559.33 L153.25,560.00 L152.50,560.67 L151.75,561.33 L151.00,562.00 L150.24,562.67 L149.46,563.36 L148.67,564.05 L147.87,564.74 L147.08,565.43 L146.29,566.12 L145.51,566.81 L144.75,567.48 L144.01,568.14 L143.30,568.78 L142.63,569.40 L142.00,570.00 L141.40,570.58 L140.82,571.14 L140.26,571.69 L139.73,572.22 L139.21,572.74 L138.72,573.25 L138.26,573.74 L137.83,574.22 L137.42,574.69 L137.05,575.14 L136.71,575.58 L136.40,576.00 L136.12,576.40 L135.85,576.76 L135.60,577.09 L135.39,577.41 L135.19,577.71 L135.04,578.00 L134.92,578.29 L134.84,578.59 L134.80,578.91 L134.81,579.24 L134.88,579.60 L135.00,580.00 L135.17,580.43 L135.39,580.88 L135.66,581.36 L135.97,581.85 L136.33,582.36 L136.72,582.88 L137.17,583.40 L137.65,583.93 L138.18,584.45 L138.75,584.98 L139.35,585.49 L140.00,586.00 L140.71,586.50 L141.49,587.00 L142.33,587.50 L143.22,588.00 L144.16,588.50 L145.12,589.00 L146.11,589.50 L147.11,590.00 L148.11,590.50 L149.10,591.00 L150.06,591.50 L151.00,592.00 L151.93,592.50 L152.87,593.00 L153.82,593.50 L154.78,594.00 L155.74,594.50 L156.69,595.00 L157.63,595.50 L158.56,596.00 L159.46,596.50 L160.34,597.00 L161.19,597.50 L162.00,598.00 L162.79,598.50 L163.56,599.01 L164.31,599.51 L165.05,600.02 L165.77,600.53 L166.46,601.04 L167.13,601.54 L167.77,602.04 L168.38,602.54 L168.96,603.03 L169.50,603.52 L170.00,604.00 L170.47,604.49 L170.90,605.00 L171.29,605.52 L171.66,606.04 L171.99,606.57 L172.30,607.08 L172.58,607.56 L172.83,608.02 L173.06,608.44 L173.26,608.82 L173.44,609.14 L173.60,609.40 L173.60,609.40 L173.76,609.14 L173.94,608.82 L174.14,608.44 L174.37,608.02 L174.62,607.56 L174.90,607.08 L175.21,606.57 L175.54,606.04 L175.91,605.52 L176.30,605.00 L176.73,604.49 L177.20,604.00 L177.70,603.52 L178.24,603.03 L178.82,602.54 L179.43,602.04 L180.07,601.54 L180.74,601.04 L181.43,600.53 L182.15,600.02 L182.89,599.51 L183.64,599.01 L184.41,598.50 L185.20,598.00 L186.01,597.50 L186.86,597.00 L187.74,596.50 L188.64,596.00 L189.57,595.50 L190.51,595.00 L191.46,594.50 L192.42,594.00 L193.38,593.50 L194.33,593.00 L195.27,592.50 L196.20,592.00 L197.14,591.50 L198.10,591.00 L199.09,590.50 L200.09,590.00 L201.09,589.50 L202.07,589.00 L203.04,588.50 L203.98,588.00 L204.87,587.50 L205.71,587.00 L206.49,586.50 L207.20,586.00 L207.85,585.49 L208.45,584.98 L209.02,584.45 L209.55,583.93 L210.03,583.40 L210.47,582.88 L210.87,582.36 L211.23,581.85 L211.54,581.36 L211.81,580.88 L212.03,580.43 L212.20,580.00 L212.32,579.60 L212.39,579.24 L212.40,578.91 L212.36,578.59 L212.28,578.29 L212.16,578.00 L212.01,577.71 L211.81,577.41 L211.60,577.09 L211.35,576.76 L211.08,576.40 L210.80,576.00 L210.49,575.58 L210.15,575.14 L209.78,574.69 L209.37,574.22 L208.94,573.74 L208.47,573.25 L207.99,572.74 L207.47,572.22 L206.94,571.69 L206.38,571.14 L205.80,570.58 L205.20,570.00 L204.57,569.40 L203.90,568.78 L203.19,568.14 L202.45,567.48 L201.69,566.81 L200.91,566.12 L200.12,565.43 L199.33,564.74 L198.53,564.05 L197.74,563.36 L196.96,562.67 L196.20,562.00 L195.45,561.33 L194.70,560.67 L193.95,560.00 L193.20,559.33 L192.45,558.67 L191.70,558.00 L190.95,557.33 L190.20,556.67 L189.45,556.00 L188.70,555.33 L187.95,554.67 L187.20,554.00 L186.43,553.33 L185.64,552.66 L184.83,551.98 L184.01,551.30 L183.19,550.62 L182.38,549.94 L181.58,549.26 L180.81,548.59 L180.08,547.93 L179.40,547.28 L178.77,546.63 L178.20,546.00 L177.69,545.38 L177.22,544.78 L176.80,544.18 L176.41,543.59 L176.06,543.01 L175.74,542.44 L175.45,541.87 L175.19,541.30 L174.96,540.73 L174.75,540.16 L174.57,539.58 L174.40,539.00 L174.26,538.41 L174.17,537.82 L174.10,537.23 L174.07,536.63 L174.07,536.03 L174.09,535.44 L174.12,534.85 L174.17,534.26 L174.23,533.68 L174.29,533.11 L174.35,532.55 L174.40,532.00 L174.46,531.47 L174.53,530.95 L174.61,530.45 L174.70,529.96 L174.79,529.48 L174.90,529.00 L175.01,528.52 L175.13,528.04 L175.24,527.55 L175.36,527.05 L175.48,526.53 L175.60,526.00 L175.73,525.45 L175.87,524.89 L176.03,524.32 L176.20,523.74 L176.37,523.15 L176.54,522.56 L176.70,521.97 L176.84,521.37 L176.97,520.77 L177.08,520.18 L177.16,519.59 L177.20,519.00 L177.21,518.41 L177.20,517.83 L177.17,517.24 L177.12,516.64 L177.05,516.05 L176.96,515.46 L176.86,514.87 L176.75,514.29 L176.62,513.71 L176.49,513.13 L176.35,512.56 L176.20,512.00 L176.03,511.43 L175.83,510.82 L175.60,510.21 L175.36,509.59 L175.10,508.97 L174.84,508.36 L174.58,507.78 L174.33,507.24 L174.10,506.74 L173.90,506.29 L173.73,505.91 L173.60,505.60Z" fill="#00BFC4"/>
<line x1="173.6" y1="555" x2="173.6" y2="566.4" stroke="#333333" stroke-width="0.8"/><rect x="164.4" y="566.4" width="18.19999999999999" height="23.200000000000045" fill="#00BFC4" stroke="#333333" stroke-width="0.8"/><line x1="164.4" y1="578" x2="182.6" y2="578" stroke="#333333" stroke-width="1.6"/>
<circle cx="173.6" cy="520.4" r="1.3" fill="#222"/>
<text x="110" y="520.4" font-family='"Liberation Serif", serif' font-size="13.68" fill="#000">T−test, p = 0.0047</text>
<line x1="494.3" y1="491" x2="494.3" y2="619.15" stroke="#000" stroke-width="1.28"/><line x1="493.66" y1="618.6" x2="684" y2="618.6" stroke="#000" stroke-width="1.12"/><line x1="491.8" y1="590.2" x2="494" y2="590.2" stroke="#333" stroke-width="0.7"/><text x="491.3" y="593.6" font-family='"Liberation Serif", serif' font-size="9.55" text-anchor="end" fill="#4d4d4d">0.00</text><line x1="491.8" y1="555.2" x2="494" y2="555.2" stroke="#333" stroke-width="0.7"/><text x="491.3" y="558.6" font-family='"Liberation Serif", serif' font-size="9.55" text-anchor="end" fill="#4d4d4d">0.25</text><line x1="491.8" y1="520.2" x2="494" y2="520.2" stroke="#333" stroke-width="0.7"/><text x="491.3" y="523.6" font-family='"Liberation Serif", serif' font-size="9.55" text-anchor="end" fill="#4d4d4d">0.50</text><line x1="546" y1="618.4" x2="546" y2="620.6999999999999" stroke="#333" stroke-width="0.7"/><text x="546" y="628.7" font-family='"Liberation Serif", serif' font-size="10.75" text-anchor="middle" fill="#1a1a1a">pTLS−</text><line x1="632.4" y1="618.4" x2="632.4" y2="620.6999999999999" stroke="#333" stroke-width="0.7"/><text x="632.4" y="628.7" font-family='"Liberation Serif", serif' font-size="10.75" text-anchor="middle" fill="#1a1a1a">pTLS+</text><text x="589.0" y="640.4" font-family='"Liberation Serif", serif' font-size="10.9" text-anchor="middle" fill="#000">pTLS status</text><text transform="translate(468.5,554.7) rotate(-90)" text-anchor="middle" font-family='"Liberation Serif", serif' font-size="11" fill="#000">Thickness</text><text x="494" y="485.7" font-family='"Liberation Serif", serif' font-size="13.2" fill="#000">Thickness of fibrosis in tumor</text>
<path d="M546.00,511.60 L545.98,512.11 L545.94,512.76 L545.91,513.52 L545.87,514.39 L545.82,515.32 L545.77,516.30 L545.73,517.31 L545.68,518.33 L545.63,519.33 L545.58,520.29 L545.54,521.18 L545.50,522.00 L545.46,522.76 L545.43,523.50 L545.40,524.22 L545.36,524.92 L545.33,525.60 L545.30,526.27 L545.27,526.93 L545.24,527.57 L545.20,528.20 L545.17,528.81 L545.14,529.41 L545.10,530.00 L545.06,530.56 L545.03,531.08 L544.99,531.57 L544.95,532.04 L544.91,532.49 L544.88,532.94 L544.83,533.39 L544.79,533.85 L544.75,534.34 L544.70,534.85 L544.65,535.40 L544.60,536.00 L544.54,536.65 L544.49,537.34 L544.42,538.06 L544.36,538.81 L544.29,539.59 L544.23,540.38 L544.16,541.17 L544.09,541.96 L544.01,542.75 L543.94,543.52 L543.87,544.28 L543.80,545.00 L543.73,545.70 L543.66,546.39 L543.59,547.07 L543.51,547.74 L543.44,548.40 L543.37,549.06 L543.29,549.72 L543.22,550.37 L543.14,551.02 L543.06,551.68 L542.98,552.34 L542.90,553.00 L542.82,553.67 L542.75,554.34 L542.68,555.02 L542.61,555.70 L542.54,556.38 L542.47,557.06 L542.39,557.74 L542.30,558.41 L542.20,559.07 L542.08,559.72 L541.95,560.37 L541.80,561.00 L541.63,561.62 L541.45,562.22 L541.25,562.82 L541.04,563.41 L540.82,563.99 L540.59,564.56 L540.35,565.13 L540.10,565.70 L539.84,566.27 L539.57,566.84 L539.29,567.42 L539.00,568.00 L538.69,568.59 L538.35,569.18 L537.99,569.77 L537.61,570.37 L537.22,570.97 L536.83,571.56 L536.44,572.15 L536.06,572.74 L535.70,573.32 L535.37,573.89 L535.06,574.45 L534.80,575.00 L534.57,575.54 L534.37,576.07 L534.19,576.60 L534.03,577.12 L533.89,577.64 L533.76,578.14 L533.65,578.64 L533.55,579.13 L533.45,579.61 L533.37,580.09 L533.28,580.55 L533.20,581.00 L533.12,581.44 L533.05,581.86 L532.99,582.28 L532.93,582.68 L532.89,583.07 L532.85,583.46 L532.82,583.84 L532.80,584.21 L532.79,584.58 L532.78,584.95 L532.79,585.33 L532.80,585.70 L532.82,586.08 L532.86,586.45 L532.91,586.83 L532.97,587.21 L533.04,587.59 L533.11,587.96 L533.19,588.32 L533.27,588.68 L533.36,589.03 L533.44,589.36 L533.52,589.69 L533.60,590.00 L533.67,590.29 L533.73,590.56 L533.79,590.82 L533.84,591.06 L533.90,591.29 L533.96,591.52 L534.03,591.74 L534.11,591.97 L534.20,592.21 L534.32,592.46 L534.45,592.72 L534.60,593.00 L534.78,593.30 L534.99,593.62 L535.22,593.95 L535.47,594.30 L535.73,594.65 L536.01,595.00 L536.28,595.35 L536.56,595.70 L536.84,596.05 L537.11,596.38 L537.36,596.70 L537.60,597.00 L537.82,597.28 L538.03,597.53 L538.22,597.77 L538.41,598.00 L538.60,598.22 L538.78,598.44 L538.97,598.66 L539.17,598.89 L539.37,599.13 L539.60,599.40 L539.84,599.68 L540.10,600.00 L540.39,600.35 L540.72,600.73 L541.07,601.13 L541.43,601.56 L541.81,601.99 L542.19,602.44 L542.57,602.89 L542.94,603.33 L543.30,603.77 L543.63,604.20 L543.93,604.61 L544.20,605.00 L544.44,605.38 L544.65,605.77 L544.85,606.16 L545.04,606.56 L545.20,606.94 L545.36,607.31 L545.49,607.67 L545.62,608.00 L545.73,608.30 L545.83,608.58 L545.92,608.81 L546.00,609.00 L546.00,609.00 L546.08,608.81 L546.17,608.58 L546.27,608.30 L546.38,608.00 L546.51,607.67 L546.64,607.31 L546.80,606.94 L546.96,606.56 L547.15,606.16 L547.35,605.77 L547.56,605.38 L547.80,605.00 L548.07,604.61 L548.37,604.20 L548.70,603.77 L549.06,603.33 L549.43,602.89 L549.81,602.44 L550.19,601.99 L550.57,601.56 L550.93,601.13 L551.28,600.73 L551.61,600.35 L551.90,600.00 L552.16,599.68 L552.40,599.40 L552.63,599.13 L552.83,598.89 L553.03,598.66 L553.22,598.44 L553.40,598.22 L553.59,598.00 L553.78,597.77 L553.97,597.53 L554.18,597.28 L554.40,597.00 L554.64,596.70 L554.89,596.38 L555.16,596.05 L555.44,595.70 L555.72,595.35 L555.99,595.00 L556.27,594.65 L556.53,594.30 L556.78,593.95 L557.01,593.62 L557.22,593.30 L557.40,593.00 L557.55,592.72 L557.68,592.46 L557.80,592.21 L557.89,591.97 L557.97,591.74 L558.04,591.52 L558.10,591.29 L558.16,591.06 L558.21,590.82 L558.27,590.56 L558.33,590.29 L558.40,590.00 L558.48,589.69 L558.56,589.36 L558.64,589.03 L558.73,588.68 L558.81,588.32 L558.89,587.96 L558.96,587.59 L559.03,587.21 L559.09,586.83 L559.14,586.45 L559.18,586.08 L559.20,585.70 L559.21,585.33 L559.22,584.95 L559.21,584.58 L559.20,584.21 L559.18,583.84 L559.15,583.46 L559.11,583.07 L559.07,582.68 L559.01,582.28 L558.95,581.86 L558.88,581.44 L558.80,581.00 L558.72,580.55 L558.63,580.09 L558.55,579.61 L558.45,579.13 L558.35,578.64 L558.24,578.14 L558.11,577.64 L557.97,577.12 L557.81,576.60 L557.63,576.07 L557.43,575.54 L557.20,575.00 L556.94,574.45 L556.63,573.89 L556.30,573.32 L555.94,572.74 L555.56,572.15 L555.17,571.56 L554.78,570.97 L554.39,570.37 L554.01,569.77 L553.65,569.18 L553.31,568.59 L553.00,568.00 L552.71,567.42 L552.43,566.84 L552.16,566.27 L551.90,565.70 L551.65,565.13 L551.41,564.56 L551.18,563.99 L550.96,563.41 L550.75,562.82 L550.55,562.22 L550.37,561.62 L550.20,561.00 L550.05,560.37 L549.92,559.72 L549.80,559.07 L549.70,558.41 L549.61,557.74 L549.53,557.06 L549.46,556.38 L549.39,555.70 L549.32,555.02 L549.25,554.34 L549.18,553.67 L549.10,553.00 L549.02,552.34 L548.94,551.68 L548.86,551.02 L548.78,550.37 L548.71,549.72 L548.63,549.06 L548.56,548.40 L548.49,547.74 L548.41,547.07 L548.34,546.39 L548.27,545.70 L548.20,545.00 L548.13,544.28 L548.06,543.52 L547.99,542.75 L547.91,541.96 L547.84,541.17 L547.77,540.38 L547.71,539.59 L547.64,538.81 L547.58,538.06 L547.51,537.34 L547.46,536.65 L547.40,536.00 L547.35,535.40 L547.30,534.85 L547.25,534.34 L547.21,533.85 L547.17,533.39 L547.12,532.94 L547.09,532.49 L547.05,532.04 L547.01,531.57 L546.97,531.08 L546.94,530.56 L546.90,530.00 L546.86,529.41 L546.83,528.81 L546.80,528.20 L546.76,527.57 L546.73,526.93 L546.70,526.27 L546.67,525.60 L546.64,524.92 L546.60,524.22 L546.57,523.50 L546.54,522.76 L546.50,522.00 L546.46,521.18 L546.42,520.29 L546.37,519.33 L546.32,518.33 L546.27,517.31 L546.23,516.30 L546.18,515.32 L546.13,514.39 L546.09,513.52 L546.06,512.76 L546.02,512.11 L546.00,511.60Z" fill="#F8766D"/>
<line x1="546" y1="520.2" x2="546" y2="562" stroke="#333333" stroke-width="0.8"/><rect x="537.4" y="562" width="17.399999999999977" height="28.200000000000045" fill="#F8766D" stroke="#333333" stroke-width="0.8"/><line x1="537.4" y1="576" x2="554.8" y2="576" stroke="#333333" stroke-width="1.6"/>
<path d="M632.40,554.40 L632.26,554.68 L632.07,555.03 L631.84,555.44 L631.58,555.91 L631.30,556.42 L631.01,556.95 L630.72,557.50 L630.44,558.04 L630.18,558.58 L629.95,559.09 L629.75,559.57 L629.60,560.00 L629.49,560.39 L629.40,560.76 L629.34,561.11 L629.30,561.45 L629.27,561.78 L629.26,562.10 L629.27,562.41 L629.28,562.73 L629.30,563.04 L629.33,563.35 L629.37,563.67 L629.40,564.00 L629.46,564.34 L629.55,564.68 L629.67,565.02 L629.81,565.37 L629.95,565.72 L630.10,566.06 L630.23,566.40 L630.35,566.74 L630.43,567.07 L630.47,567.39 L630.47,567.70 L630.40,568.00 L630.27,568.28 L630.10,568.55 L629.89,568.80 L629.64,569.04 L629.36,569.27 L629.05,569.50 L628.72,569.73 L628.39,569.96 L628.04,570.20 L627.69,570.45 L627.34,570.72 L627.00,571.00 L626.65,571.30 L626.26,571.61 L625.85,571.93 L625.41,572.26 L624.98,572.60 L624.54,572.94 L624.11,573.28 L623.70,573.63 L623.31,573.98 L622.96,574.32 L622.65,574.66 L622.40,575.00 L622.20,575.34 L622.03,575.68 L621.90,576.02 L621.81,576.37 L621.74,576.72 L621.69,577.06 L621.66,577.40 L621.64,577.74 L621.63,578.07 L621.62,578.39 L621.61,578.70 L621.60,579.00 L621.61,579.29 L621.67,579.57 L621.76,579.84 L621.87,580.11 L621.99,580.37 L622.10,580.62 L622.20,580.87 L622.27,581.11 L622.29,581.34 L622.27,581.57 L622.17,581.79 L622.00,582.00 L621.77,582.20 L621.51,582.38 L621.22,582.55 L620.89,582.70 L620.52,582.85 L620.10,583.00 L619.63,583.15 L619.11,583.30 L618.53,583.45 L617.89,583.62 L617.18,583.80 L616.40,584.00 L615.51,584.21 L614.49,584.44 L613.36,584.68 L612.15,584.93 L610.88,585.18 L609.58,585.44 L608.27,585.70 L606.97,585.96 L605.71,586.23 L604.51,586.49 L603.40,586.75 L602.40,587.00 L601.43,587.25 L600.40,587.50 L599.36,587.75 L598.32,588.00 L597.32,588.25 L596.39,588.50 L595.56,588.75 L594.86,589.00 L594.31,589.25 L593.95,589.50 L593.80,589.75 L593.90,590.00 L594.28,590.25 L594.94,590.50 L595.84,590.75 L596.93,591.00 L598.18,591.25 L599.54,591.50 L600.99,591.75 L602.47,592.00 L603.95,592.25 L605.39,592.50 L606.76,592.75 L608.00,593.00 L609.19,593.25 L610.42,593.51 L611.67,593.76 L612.93,594.02 L614.19,594.28 L615.44,594.53 L616.67,594.79 L617.86,595.04 L618.99,595.29 L620.07,595.53 L621.08,595.77 L622.00,596.00 L622.84,596.23 L623.61,596.45 L624.33,596.66 L624.99,596.87 L625.60,597.08 L626.16,597.28 L626.69,597.48 L627.19,597.69 L627.67,597.89 L628.12,598.09 L628.56,598.29 L629.00,598.50 L629.42,598.72 L629.81,598.95 L630.18,599.18 L630.53,599.43 L630.84,599.67 L631.14,599.91 L631.41,600.14 L631.65,600.35 L631.87,600.55 L632.07,600.73 L632.25,600.88 L632.40,601.00 L632.40,601.00 L632.55,600.88 L632.73,600.73 L632.93,600.55 L633.15,600.35 L633.39,600.14 L633.66,599.91 L633.96,599.67 L634.27,599.43 L634.62,599.18 L634.99,598.95 L635.38,598.72 L635.80,598.50 L636.24,598.29 L636.68,598.09 L637.13,597.89 L637.61,597.69 L638.11,597.48 L638.64,597.28 L639.20,597.08 L639.81,596.87 L640.47,596.66 L641.19,596.45 L641.96,596.23 L642.80,596.00 L643.72,595.77 L644.73,595.53 L645.81,595.29 L646.94,595.04 L648.13,594.79 L649.36,594.53 L650.61,594.28 L651.87,594.02 L653.13,593.76 L654.38,593.51 L655.61,593.25 L656.80,593.00 L658.04,592.75 L659.41,592.50 L660.85,592.25 L662.33,592.00 L663.81,591.75 L665.26,591.50 L666.62,591.25 L667.87,591.00 L668.96,590.75 L669.86,590.50 L670.52,590.25 L670.90,590.00 L671.00,589.75 L670.85,589.50 L670.49,589.25 L669.94,589.00 L669.24,588.75 L668.41,588.50 L667.48,588.25 L666.48,588.00 L665.44,587.75 L664.40,587.50 L663.37,587.25 L662.40,587.00 L661.40,586.75 L660.29,586.49 L659.09,586.23 L657.83,585.96 L656.53,585.70 L655.22,585.44 L653.92,585.18 L652.65,584.93 L651.44,584.68 L650.31,584.44 L649.29,584.21 L648.40,584.00 L647.62,583.80 L646.91,583.62 L646.27,583.45 L645.69,583.30 L645.17,583.15 L644.70,583.00 L644.28,582.85 L643.91,582.70 L643.58,582.55 L643.29,582.38 L643.03,582.20 L642.80,582.00 L642.63,581.79 L642.53,581.57 L642.51,581.34 L642.53,581.11 L642.60,580.87 L642.70,580.62 L642.81,580.37 L642.93,580.11 L643.04,579.84 L643.13,579.57 L643.19,579.29 L643.20,579.00 L643.19,578.70 L643.18,578.39 L643.17,578.07 L643.16,577.74 L643.14,577.40 L643.11,577.06 L643.06,576.72 L642.99,576.37 L642.90,576.02 L642.77,575.68 L642.60,575.34 L642.40,575.00 L642.15,574.66 L641.84,574.32 L641.49,573.98 L641.10,573.63 L640.69,573.28 L640.26,572.94 L639.82,572.60 L639.39,572.26 L638.95,571.93 L638.54,571.61 L638.15,571.30 L637.80,571.00 L637.46,570.72 L637.11,570.45 L636.76,570.20 L636.41,569.96 L636.08,569.73 L635.75,569.50 L635.44,569.27 L635.16,569.04 L634.91,568.80 L634.70,568.55 L634.53,568.28 L634.40,568.00 L634.33,567.70 L634.33,567.39 L634.37,567.07 L634.45,566.74 L634.57,566.40 L634.70,566.06 L634.85,565.72 L634.99,565.37 L635.13,565.02 L635.25,564.68 L635.34,564.34 L635.40,564.00 L635.43,563.67 L635.47,563.35 L635.50,563.04 L635.52,562.73 L635.53,562.41 L635.54,562.10 L635.53,561.78 L635.50,561.45 L635.46,561.11 L635.40,560.76 L635.31,560.39 L635.20,560.00 L635.05,559.57 L634.85,559.09 L634.62,558.58 L634.36,558.04 L634.08,557.50 L633.79,556.95 L633.50,556.42 L633.22,555.91 L632.96,555.44 L632.73,555.03 L632.54,554.68 L632.40,554.40Z" fill="#00BFC4"/>
<line x1="632.4" y1="563" x2="632.4" y2="576" stroke="#333333" stroke-width="0.8"/><rect x="623.6" y="576" width="17.600000000000023" height="14.200000000000045" fill="#00BFC4" stroke="#333333" stroke-width="0.8"/><line x1="623.6" y1="590.2" x2="641.2" y2="590.2" stroke="#333333" stroke-width="1.6"/>
<text x="569.2" y="520.4" font-family='"Liberation Serif", serif' font-size="13.68" fill="#000">T−test, p = 0.0025</text>
<rect x="34" y="275" width="359.0" height="120" fill="#EBEBEB"/>
<rect x="58.4" y="285.6" width="147.2" height="26.72" fill="#66C2A5" stroke="#000" stroke-width="0.9"/>
<rect x="58.4" y="312.32" width="147.2" height="72.23" fill="#FC8D62" stroke="#000" stroke-width="0.9"/>
<rect x="221.4" y="285.6" width="147.4" height="60.36" fill="#66C2A5" stroke="#000" stroke-width="0.9"/>
<rect x="221.4" y="345.96" width="147.4" height="38.59" fill="#FC8D62" stroke="#000" stroke-width="0.9"/>
<path d="M34.0,275 V394.9 H393.0" fill="none" stroke="#000" stroke-width="1.6"/>
<line x1="31.2" y1="384.55" x2="34" y2="384.55" stroke="#000" stroke-width="0.9"/>
<text x="29.2" y="387.25" font-family='"Liberation Serif", serif' font-size="8" text-anchor="end" fill="#4d4d4d">0%</text>
<line x1="31.2" y1="374.66" x2="34" y2="374.66" stroke="#000" stroke-width="0.9"/>
<text x="29.2" y="377.36" font-family='"Liberation Serif", serif' font-size="8" text-anchor="end" fill="#4d4d4d">10%</text>
<line x1="31.2" y1="364.76" x2="34" y2="364.76" stroke="#000" stroke-width="0.9"/>
<text x="29.2" y="367.46" font-family='"Liberation Serif", serif' font-size="8" text-anchor="end" fill="#4d4d4d">20%</text>
<line x1="31.2" y1="354.87" x2="34" y2="354.87" stroke="#000" stroke-width="0.9"/>
<text x="29.2" y="357.56" font-family='"Liberation Serif", serif' font-size="8" text-anchor="end" fill="#4d4d4d">30%</text>
<line x1="31.2" y1="344.97" x2="34" y2="344.97" stroke="#000" stroke-width="0.9"/>
<text x="29.2" y="347.67" font-family='"Liberation Serif", serif' font-size="8" text-anchor="end" fill="#4d4d4d">40%</text>
<line x1="31.2" y1="335.08" x2="34" y2="335.08" stroke="#000" stroke-width="0.9"/>
<text x="29.2" y="337.78" font-family='"Liberation Serif", serif' font-size="8" text-anchor="end" fill="#4d4d4d">50%</text>
<line x1="31.2" y1="325.18" x2="34" y2="325.18" stroke="#000" stroke-width="0.9"/>
<text x="29.2" y="327.88" font-family='"Liberation Serif", serif' font-size="8" text-anchor="end" fill="#4d4d4d">60%</text>
<line x1="31.2" y1="315.29" x2="34" y2="315.29" stroke="#000" stroke-width="0.9"/>
<text x="29.2" y="317.99" font-family='"Liberation Serif", serif' font-size="8" text-anchor="end" fill="#4d4d4d">70%</text>
<line x1="31.2" y1="305.39" x2="34" y2="305.39" stroke="#000" stroke-width="0.9"/>
<text x="29.2" y="308.09" font-family='"Liberation Serif", serif' font-size="8" text-anchor="end" fill="#4d4d4d">80%</text>
<line x1="31.2" y1="295.50" x2="34" y2="295.50" stroke="#000" stroke-width="0.9"/>
<text x="29.2" y="298.19" font-family='"Liberation Serif", serif' font-size="8" text-anchor="end" fill="#4d4d4d">90%</text>
<line x1="31.2" y1="285.60" x2="34" y2="285.60" stroke="#000" stroke-width="0.9"/>
<text x="29.2" y="288.3" font-family='"Liberation Serif", serif' font-size="8" text-anchor="end" fill="#4d4d4d">100%</text>
<line x1="132" y1="395" x2="132" y2="397.8" stroke="#000" stroke-width="0.9"/>
<line x1="295" y1="395" x2="295" y2="397.8" stroke="#000" stroke-width="0.9"/>
<text x="132" y="405.4" font-family='"Liberation Serif", serif' font-size="7.5" text-anchor="middle" fill="#4d4d4d">0</text>
<text x="295" y="415.9" font-family='"Liberation Serif", serif' font-size="7.5" text-anchor="middle" fill="#4d4d4d">1</text>
<rect x="117.7" y="291.85825" width="28.6" height="14.2" rx="1.4" fill="#fff" stroke="#222" stroke-width="0.75"/><text x="132" y="302.75825000000003" font-family='"Liberation Sans", sans-serif' font-size="10.6" text-anchor="middle" fill="#000">27%</text>
<rect x="117.7" y="341.33325" width="28.6" height="14.2" rx="1.4" fill="#fff" stroke="#222" stroke-width="0.75"/><text x="132" y="352.23325000000006" font-family='"Liberation Sans", sans-serif' font-size="10.6" text-anchor="middle" fill="#000">73%</text>
<rect x="280.7" y="308.67975" width="28.6" height="14.2" rx="1.4" fill="#fff" stroke="#222" stroke-width="0.75"/><text x="295" y="319.57975000000005" font-family='"Liberation Sans", sans-serif' font-size="10.6" text-anchor="middle" fill="#000">61%</text>
<rect x="280.7" y="358.15475" width="28.6" height="14.2" rx="1.4" fill="#fff" stroke="#222" stroke-width="0.75"/><text x="295" y="369.05475" font-family='"Liberation Sans", sans-serif' font-size="10.6" text-anchor="middle" fill="#000">39%</text>
<text x="132" y="391.8" font-family='"Liberation Sans", sans-serif' font-size="6.4" text-anchor="middle" fill="#000">(n = 55)</text>
<text x="295" y="391.8" font-family='"Liberation Sans", sans-serif' font-size="6.4" text-anchor="middle" fill="#000">(n = 28)</text>
<text x="132.3" y="281.9" font-family='"Liberation Sans", sans-serif' font-size="4.9" text-anchor="middle" fill="#222">p = 7.49e-04</text>
<text x="295.5" y="281.9" font-family='"Liberation Sans", sans-serif' font-size="4.9" text-anchor="middle" fill="#222">p = 0.26</text>
<text x="213.6" y="245.8" font-family='"Liberation Serif", serif' font-size="13.2" text-anchor="middle" font-weight="bold" fill="#000">Proportion of AFP &gt; 400 ng/ml</text>
<text x="213.6" y="425.8" font-family='"Liberation Serif", serif' font-size="6.4" text-anchor="middle" font-weight="bold" fill="#000">iTLS</text>
<text x="403.4" y="327.7" font-family='"Liberation Serif", serif' font-size="10.6" font-style="italic" fill="#000" textLength="43.6" lengthAdjust="spacingAndGlyphs">AFP&gt;400</text>
<rect x="404.15" y="335.4" width="2.3" height="7.8" fill="#66C2A5" stroke="#111" stroke-width="0.9"/>
<rect x="404.15" y="343.2" width="2.3" height="7.4" fill="#FC8D62" stroke="#111" stroke-width="0.9"/>
<text x="412.3" y="341.2" font-family='"Liberation Serif", serif' font-size="7.4" fill="#222">1</text>
<text x="412.3" y="349.8" font-family='"Liberation Serif", serif' font-size="7.4" fill="#222">0</text>
<text x="34.2" y="264.2" font-family='"Liberation Serif", serif' font-size="13.2" fill="#000">χ</text>
<text x="41.0" y="259.3" font-family='"Liberation Serif", serif' font-size="7.6" fill="#000">2</text>
<text x="40.9" y="266.4" font-family='"Liberation Serif", serif' font-size="7.5" fill="#000" textLength="23.8" lengthAdjust="spacingAndGlyphs">Pearson</text>
<text x="65.2" y="264.2" font-family='"Liberation Serif", serif' font-size="10.6" fill="#000" textLength="47.6" lengthAdjust="spacingAndGlyphs">(1) = 8.76, </text>
<text x="113.2" y="264.2" font-family='"Liberation Serif", serif' font-size="10.6" font-style="italic" fill="#000">p</text>
<text x="121" y="264.2" font-family='"Liberation Serif", serif' font-size="10.6" fill="#000" textLength="54.6" lengthAdjust="spacingAndGlyphs">= 3.08e−03, </text>
<text x="176.8" y="264.2" font-family='"Liberation Serif", serif' font-size="10.6" font-style="italic" fill="#000">V</text>
<text x="175.8" y="257.59999999999997" font-family='"Liberation Serif", serif' font-size="6.3" fill="#000" textLength="8.8" lengthAdjust="spacingAndGlyphs">^</text>
<text x="184.6" y="266.0" font-family='"Liberation Serif", serif' font-size="7.5" fill="#000" textLength="22.3" lengthAdjust="spacingAndGlyphs">Cramer</text>
<text x="210.2" y="264.2" font-family='"Liberation Serif", serif' font-size="10.6" fill="#000" textLength="42.6" lengthAdjust="spacingAndGlyphs">= 0.31, CI</text>
<text x="253" y="266.4" font-family='"Liberation Serif", serif' font-size="7.5" fill="#000" textLength="15.6" lengthAdjust="spacingAndGlyphs">95%</text>
<text x="271.8" y="264.2" font-family='"Liberation Serif", serif' font-size="10.6" fill="#000" textLength="55" lengthAdjust="spacingAndGlyphs">[0.00, 0.53], </text>
<text x="327" y="264.2" font-family='"Liberation Serif", serif' font-size="10.6" font-style="italic" fill="#000">n</text>
<text x="332.6" y="266.4" font-family='"Liberation Serif", serif' font-size="7.5" fill="#000" textLength="11.8" lengthAdjust="spacingAndGlyphs">obs</text>
<text x="347.2" y="264.2" font-family='"Liberation Serif", serif' font-size="10.6" fill="#000" textLength="18.6" lengthAdjust="spacingAndGlyphs">= 83</text>
<text x="139.0" y="439.6" font-family='"Liberation Serif", serif' font-size="8.4" fill="#000" textLength="9.4" lengthAdjust="spacingAndGlyphs">log</text>
<text x="148.4" y="441.20000000000005" font-family='"Liberation Serif", serif' font-size="5.8" fill="#000">e</text>
<text x="151.0" y="440.20000000000005" font-family='"Liberation Serif", serif' font-size="10.2" fill="#000">(</text>
<text x="154.2" y="439.6" font-family='"Liberation Serif", serif' font-size="8.4" fill="#000" textLength="9.4" lengthAdjust="spacingAndGlyphs">BF</text>
<text x="163.6" y="441.20000000000005" font-family='"Liberation Serif", serif' font-size="5.8" fill="#000" textLength="8.0" lengthAdjust="spacingAndGlyphs">01</text>
<text x="171.8" y="440.20000000000005" font-family='"Liberation Serif", serif' font-size="10.2" fill="#000">)</text>
<text x="177.6" y="439.6" font-family='"Liberation Serif", serif' font-size="8.4" fill="#000" textLength="30.4" lengthAdjust="spacingAndGlyphs">= −2.92, </text>
<text x="208.0" y="439.6" font-family='"Liberation Serif", serif' font-size="8.4" font-style="italic" fill="#000">V</text>
<text x="207.3" y="434.40000000000003" font-family='"Liberation Serif", serif' font-size="5.0" fill="#000" textLength="7.0" lengthAdjust="spacingAndGlyphs">^</text>
<text x="213.0" y="435.6" font-family='"Liberation Serif", serif' font-size="5.6" fill="#000" textLength="23.6" lengthAdjust="spacingAndGlyphs">posterior</text>
<text x="213.9" y="441.6" font-family='"Liberation Serif", serif' font-size="5.6" fill="#000" textLength="18" lengthAdjust="spacingAndGlyphs">Cramer</text>
<text x="239.0" y="439.6" font-family='"Liberation Serif", serif' font-size="8.4" fill="#000" textLength="33.2" lengthAdjust="spacingAndGlyphs">= 0.29, CI</text>
<text x="273.0" y="436.0" font-family='"Liberation Serif", serif' font-size="5.6" fill="#000" textLength="9.0" lengthAdjust="spacingAndGlyphs">ETI</text>
<text x="273.0" y="441.8" font-family='"Liberation Serif", serif' font-size="5.6" fill="#000" textLength="10.6" lengthAdjust="spacingAndGlyphs">95%</text>
<text x="285.8" y="439.6" font-family='"Liberation Serif", serif' font-size="8.4" fill="#000" textLength="43.0" lengthAdjust="spacingAndGlyphs">[0.00, 0.50], </text>
<text x="329.6" y="439.6" font-family='"Liberation Serif", serif' font-size="8.4" font-style="italic" fill="#000">a</text>
<text x="334.4" y="441.20000000000005" font-family='"Liberation Serif", serif' font-size="5.6" fill="#000" textLength="34.6" lengthAdjust="spacingAndGlyphs">Gunel−Dickey</text>
<text x="371.6" y="439.6" font-family='"Liberation Serif", serif' font-size="8.4" fill="#000" textLength="20.5" lengthAdjust="spacingAndGlyphs">= 1.00</text>
</svg></body></html>
